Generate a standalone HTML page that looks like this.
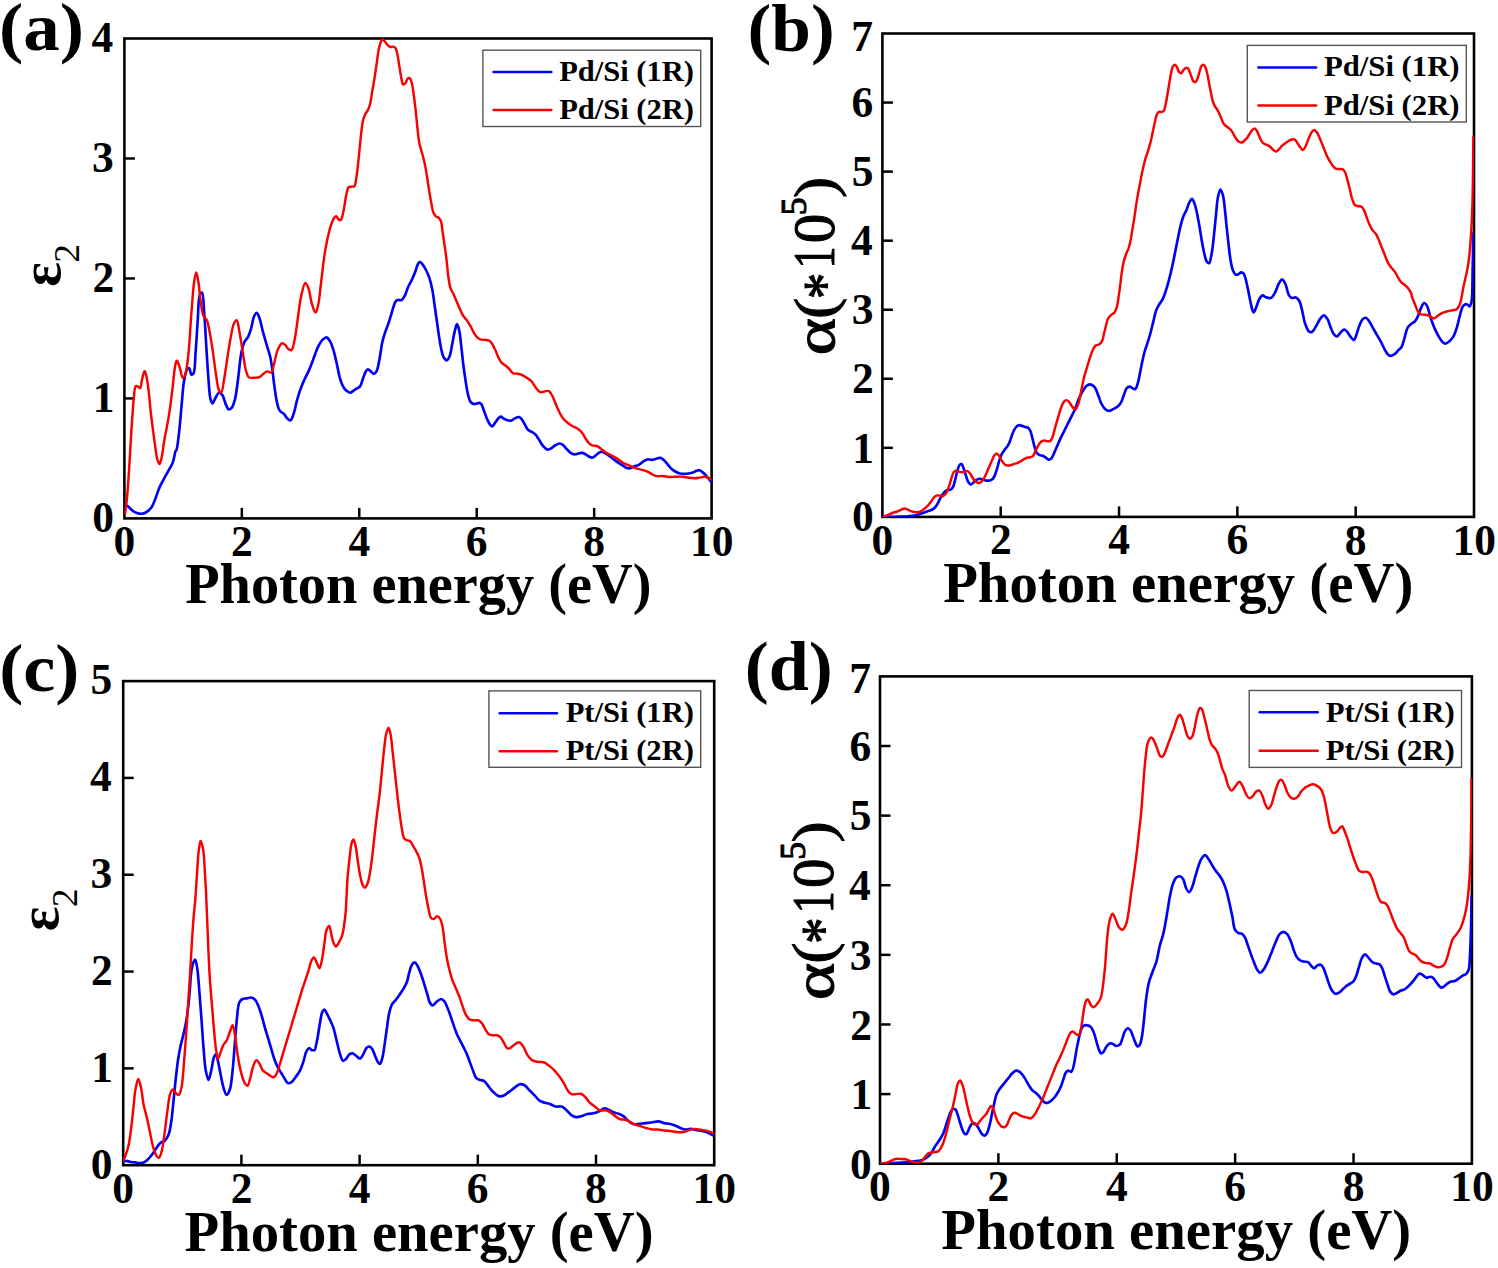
<!DOCTYPE html>
<html><head><meta charset="utf-8"><style>
html,body{margin:0;padding:0;background:#fff;}
svg{display:block;}
text{font-family:"Liberation Serif",serif;fill:#000;}
</style></head><body>
<svg width="1498" height="1268" viewBox="0 0 1498 1268">
<defs><clipPath id="clipa"><rect x="124.40" y="37.50" width="587.20" height="480.90"/></clipPath><clipPath id="clipb"><rect x="882.40" y="32.50" width="591.60" height="484.40"/></clipPath><clipPath id="clipc"><rect x="123.20" y="680.10" width="591.00" height="485.10"/></clipPath><clipPath id="clipd"><rect x="880.00" y="675.40" width="591.90" height="488.30"/></clipPath></defs>
<rect width="1498" height="1268" fill="#fff"/>
<rect x="124.40" y="38.50" width="587.20" height="479.90" fill="none" stroke="#000" stroke-width="2.60"/>
<line x1="241.84" y1="518.40" x2="241.84" y2="507.90" stroke="#000" stroke-width="2.5"/>
<line x1="359.28" y1="518.40" x2="359.28" y2="507.90" stroke="#000" stroke-width="2.5"/>
<line x1="476.72" y1="518.40" x2="476.72" y2="507.90" stroke="#000" stroke-width="2.5"/>
<line x1="594.16" y1="518.40" x2="594.16" y2="507.90" stroke="#000" stroke-width="2.5"/>
<line x1="124.40" y1="398.42" x2="134.90" y2="398.42" stroke="#000" stroke-width="2.5"/>
<line x1="124.40" y1="278.45" x2="134.90" y2="278.45" stroke="#000" stroke-width="2.5"/>
<line x1="124.40" y1="158.48" x2="134.90" y2="158.48" stroke="#000" stroke-width="2.5"/>
<text x="113.53" y="556.03" font-size="43.50" font-weight="bold">0</text>
<text x="231.07" y="555.81" font-size="43.50" font-weight="bold">2</text>
<text x="348.51" y="555.81" font-size="43.50" font-weight="bold">4</text>
<text x="465.74" y="555.81" font-size="43.50" font-weight="bold">6</text>
<text x="583.29" y="556.03" font-size="43.50" font-weight="bold">8</text>
<text x="689.98" y="556.03" font-size="43.50" font-weight="bold">10</text>
<text x="92.29" y="531.65" font-size="43.50" font-weight="bold">0</text>
<text x="92.72" y="411.78" font-size="43.50" font-weight="bold">1</text>
<text x="92.51" y="291.81" font-size="43.50" font-weight="bold">2</text>
<text x="92.07" y="171.61" font-size="43.50" font-weight="bold">3</text>
<text x="91.42" y="51.86" font-size="43.50" font-weight="bold">4</text>
<rect x="882.40" y="33.50" width="591.60" height="483.40" fill="none" stroke="#000" stroke-width="2.60"/>
<line x1="1000.72" y1="516.90" x2="1000.72" y2="506.40" stroke="#000" stroke-width="2.5"/>
<line x1="1119.04" y1="516.90" x2="1119.04" y2="506.40" stroke="#000" stroke-width="2.5"/>
<line x1="1237.36" y1="516.90" x2="1237.36" y2="506.40" stroke="#000" stroke-width="2.5"/>
<line x1="1355.68" y1="516.90" x2="1355.68" y2="506.40" stroke="#000" stroke-width="2.5"/>
<line x1="882.40" y1="447.84" x2="892.90" y2="447.84" stroke="#000" stroke-width="2.5"/>
<line x1="882.40" y1="378.79" x2="892.90" y2="378.79" stroke="#000" stroke-width="2.5"/>
<line x1="882.40" y1="309.73" x2="892.90" y2="309.73" stroke="#000" stroke-width="2.5"/>
<line x1="882.40" y1="240.67" x2="892.90" y2="240.67" stroke="#000" stroke-width="2.5"/>
<line x1="882.40" y1="171.61" x2="892.90" y2="171.61" stroke="#000" stroke-width="2.5"/>
<line x1="882.40" y1="102.56" x2="892.90" y2="102.56" stroke="#000" stroke-width="2.5"/>
<text x="871.52" y="554.53" font-size="43.50" font-weight="bold">0</text>
<text x="989.95" y="554.31" font-size="43.50" font-weight="bold">2</text>
<text x="1108.27" y="554.31" font-size="43.50" font-weight="bold">4</text>
<text x="1226.38" y="554.31" font-size="43.50" font-weight="bold">6</text>
<text x="1344.81" y="554.53" font-size="43.50" font-weight="bold">8</text>
<text x="1452.38" y="554.53" font-size="43.50" font-weight="bold">10</text>
<text x="851.89" y="531.45" font-size="43.50" font-weight="bold">0</text>
<text x="852.32" y="462.50" font-size="43.50" font-weight="bold">1</text>
<text x="852.11" y="393.44" font-size="43.50" font-weight="bold">2</text>
<text x="851.67" y="324.17" font-size="43.50" font-weight="bold">3</text>
<text x="851.02" y="255.33" font-size="43.50" font-weight="bold">4</text>
<text x="851.67" y="185.94" font-size="43.50" font-weight="bold">5</text>
<text x="851.45" y="116.99" font-size="43.50" font-weight="bold">6</text>
<text x="851.24" y="50.55" font-size="43.50" font-weight="bold">7</text>
<rect x="123.20" y="681.10" width="591.00" height="484.10" fill="none" stroke="#000" stroke-width="2.60"/>
<line x1="241.40" y1="1165.20" x2="241.40" y2="1154.70" stroke="#000" stroke-width="2.5"/>
<line x1="359.60" y1="1165.20" x2="359.60" y2="1154.70" stroke="#000" stroke-width="2.5"/>
<line x1="477.80" y1="1165.20" x2="477.80" y2="1154.70" stroke="#000" stroke-width="2.5"/>
<line x1="596.00" y1="1165.20" x2="596.00" y2="1154.70" stroke="#000" stroke-width="2.5"/>
<line x1="123.20" y1="1068.38" x2="133.70" y2="1068.38" stroke="#000" stroke-width="2.5"/>
<line x1="123.20" y1="971.56" x2="133.70" y2="971.56" stroke="#000" stroke-width="2.5"/>
<line x1="123.20" y1="874.74" x2="133.70" y2="874.74" stroke="#000" stroke-width="2.5"/>
<line x1="123.20" y1="777.92" x2="133.70" y2="777.92" stroke="#000" stroke-width="2.5"/>
<text x="112.33" y="1202.83" font-size="43.50" font-weight="bold">0</text>
<text x="230.63" y="1202.61" font-size="43.50" font-weight="bold">2</text>
<text x="348.83" y="1202.61" font-size="43.50" font-weight="bold">4</text>
<text x="466.82" y="1202.61" font-size="43.50" font-weight="bold">6</text>
<text x="585.12" y="1202.83" font-size="43.50" font-weight="bold">8</text>
<text x="692.58" y="1202.83" font-size="43.50" font-weight="bold">10</text>
<text x="90.79" y="1178.55" font-size="43.50" font-weight="bold">0</text>
<text x="91.22" y="1081.84" font-size="43.50" font-weight="bold">1</text>
<text x="91.01" y="985.02" font-size="43.50" font-weight="bold">2</text>
<text x="90.57" y="887.98" font-size="43.50" font-weight="bold">3</text>
<text x="89.92" y="791.38" font-size="43.50" font-weight="bold">4</text>
<text x="90.57" y="694.23" font-size="43.50" font-weight="bold">5</text>
<rect x="880.00" y="676.40" width="591.90" height="487.30" fill="none" stroke="#000" stroke-width="2.60"/>
<line x1="998.38" y1="1163.70" x2="998.38" y2="1153.20" stroke="#000" stroke-width="2.5"/>
<line x1="1116.76" y1="1163.70" x2="1116.76" y2="1153.20" stroke="#000" stroke-width="2.5"/>
<line x1="1235.14" y1="1163.70" x2="1235.14" y2="1153.20" stroke="#000" stroke-width="2.5"/>
<line x1="1353.52" y1="1163.70" x2="1353.52" y2="1153.20" stroke="#000" stroke-width="2.5"/>
<line x1="880.00" y1="1094.09" x2="890.50" y2="1094.09" stroke="#000" stroke-width="2.5"/>
<line x1="880.00" y1="1024.47" x2="890.50" y2="1024.47" stroke="#000" stroke-width="2.5"/>
<line x1="880.00" y1="954.86" x2="890.50" y2="954.86" stroke="#000" stroke-width="2.5"/>
<line x1="880.00" y1="885.24" x2="890.50" y2="885.24" stroke="#000" stroke-width="2.5"/>
<line x1="880.00" y1="815.63" x2="890.50" y2="815.63" stroke="#000" stroke-width="2.5"/>
<line x1="880.00" y1="746.01" x2="890.50" y2="746.01" stroke="#000" stroke-width="2.5"/>
<text x="869.12" y="1201.33" font-size="43.50" font-weight="bold">0</text>
<text x="987.61" y="1201.11" font-size="43.50" font-weight="bold">2</text>
<text x="1105.99" y="1201.11" font-size="43.50" font-weight="bold">4</text>
<text x="1224.16" y="1201.11" font-size="43.50" font-weight="bold">6</text>
<text x="1342.64" y="1201.33" font-size="43.50" font-weight="bold">8</text>
<text x="1450.28" y="1201.33" font-size="43.50" font-weight="bold">10</text>
<text x="849.99" y="1178.75" font-size="43.50" font-weight="bold">0</text>
<text x="850.42" y="1109.24" font-size="43.50" font-weight="bold">1</text>
<text x="850.21" y="1039.63" font-size="43.50" font-weight="bold">2</text>
<text x="849.77" y="969.79" font-size="43.50" font-weight="bold">3</text>
<text x="849.12" y="900.40" font-size="43.50" font-weight="bold">4</text>
<text x="849.77" y="830.46" font-size="43.50" font-weight="bold">5</text>
<text x="849.55" y="760.95" font-size="43.50" font-weight="bold">6</text>
<text x="849.34" y="693.45" font-size="43.50" font-weight="bold">7</text>
<text transform="translate(185.15,603.40) scale(0.9988,1)" font-size="56.44" font-weight="bold">Photon energy (eV)</text>
<text transform="translate(943.15,601.70) scale(1.0068,1)" font-size="56.44" font-weight="bold">Photon energy (eV)</text>
<text transform="translate(184.55,1250.70) scale(1.0017,1)" font-size="56.59" font-weight="bold">Photon energy (eV)</text>
<text transform="translate(941.35,1249.40) scale(0.9984,1)" font-size="56.89" font-weight="bold">Photon energy (eV)</text>
<text transform="translate(-0.98,49.66) scale(1.0640,1)" font-size="68.57" font-weight="bold">(a)</text>
<text transform="translate(747.59,50.63) scale(1.0445,1)" font-size="68.24" font-weight="bold">(b)</text>
<text transform="translate(-0.85,690.93) scale(1.0520,1)" font-size="68.68" font-weight="bold">(c)</text>
<text transform="translate(744.76,690.04) scale(1.0414,1)" font-size="69.12" font-weight="bold">(d)</text>
<text transform="translate(59.72,286.65) rotate(-90) scale(1.0032,1)" font-size="57.71" font-weight="bold">ε</text>
<text transform="translate(79.20,262.70) rotate(-90) scale(1.0739,1)" font-size="35.15" font-weight="normal">2</text>
<text transform="translate(57.72,931.25) rotate(-90) scale(1.0032,1)" font-size="57.71" font-weight="bold">ε</text>
<text transform="translate(77.20,907.30) rotate(-90) scale(1.0739,1)" font-size="35.15" font-weight="normal">2</text>
<text stroke="#000" stroke-width="1.0" transform="translate(834.12,355.24) rotate(-90) scale(1.2318,1)" font-size="57.71" font-weight="normal">α</text>
<text stroke="#000" stroke-width="1.0" transform="translate(833.53,318.98) rotate(-90) scale(1.1295,1)" font-size="56.59" font-weight="normal">(</text>
<text stroke="#000" stroke-width="1.0" transform="translate(844.54,299.26) rotate(-90) scale(0.8562,1)" font-size="62.19" font-weight="normal">*</text>
<text stroke="#000" stroke-width="1.0" transform="translate(834.20,268.56) rotate(-90) scale(0.7427,1)" font-size="59.24" font-weight="normal">1</text>
<text stroke="#000" stroke-width="1.0" transform="translate(834.21,243.37) rotate(-90) scale(1.0080,1)" font-size="58.81" font-weight="normal">0</text>
<text stroke="#000" stroke-width="1.0" transform="translate(806.15,215.15) rotate(-90) scale(1.0203,1)" font-size="35.04" font-weight="normal">5</text>
<text stroke="#000" stroke-width="1.0" transform="translate(833.75,197.90) rotate(-90) scale(1.1155,1)" font-size="56.89" font-weight="normal">)</text>
<text stroke="#000" stroke-width="1.0" transform="translate(832.62,999.94) rotate(-90) scale(1.2318,1)" font-size="57.71" font-weight="normal">α</text>
<text stroke="#000" stroke-width="1.0" transform="translate(832.03,963.68) rotate(-90) scale(1.1295,1)" font-size="56.59" font-weight="normal">(</text>
<text stroke="#000" stroke-width="1.0" transform="translate(843.04,943.96) rotate(-90) scale(0.8562,1)" font-size="62.19" font-weight="normal">*</text>
<text stroke="#000" stroke-width="1.0" transform="translate(832.70,913.26) rotate(-90) scale(0.7427,1)" font-size="59.24" font-weight="normal">1</text>
<text stroke="#000" stroke-width="1.0" transform="translate(832.71,888.07) rotate(-90) scale(1.0080,1)" font-size="58.81" font-weight="normal">0</text>
<text stroke="#000" stroke-width="1.0" transform="translate(804.65,859.85) rotate(-90) scale(1.0203,1)" font-size="35.04" font-weight="normal">5</text>
<text stroke="#000" stroke-width="1.0" transform="translate(832.25,842.60) rotate(-90) scale(1.1155,1)" font-size="56.89" font-weight="normal">)</text>
<path d="M124.57,507.88 C125.30,507.15 125.95,505.75 126.76,505.69 C127.64,505.63 128.73,507.06 129.68,507.88 C130.68,508.75 131.45,509.97 132.60,510.80 C133.85,511.70 135.42,512.51 136.98,512.99 C138.58,513.49 140.41,513.94 142.09,513.72 C143.82,513.49 145.65,512.58 147.20,511.53 C148.83,510.43 150.32,508.97 151.58,507.15 C153.08,504.99 154.07,501.99 155.23,499.12 C156.51,495.95 157.50,492.14 158.88,488.91 C160.19,485.83 161.77,482.99 163.26,480.15 C164.69,477.40 166.12,474.91 167.64,472.12 C169.28,469.09 171.42,466.04 172.74,462.63 C174.14,459.02 174.77,452.48 175.66,450.95 C175.93,450.49 176.19,450.70 176.44,450.21 C177.51,448.15 178.39,438.03 179.21,431.04 C180.20,422.67 180.94,411.98 181.77,403.35 C182.50,395.79 182.82,388.22 183.90,382.06 C184.74,377.22 185.60,371.13 187.09,369.28 C187.73,368.49 188.62,367.96 189.22,368.21 C190.24,368.63 190.34,374.18 191.35,374.60 C191.96,374.85 192.89,374.39 193.48,373.54 C195.26,370.96 194.96,360.06 195.61,352.24 C196.41,342.67 196.99,330.34 197.74,320.29 C198.42,311.29 198.15,298.45 199.87,294.73 C200.46,293.45 201.41,292.39 202.00,292.60 C203.49,293.12 203.50,304.46 204.13,311.77 C204.98,321.50 205.54,334.67 206.26,345.85 C206.96,356.67 207.59,368.23 208.39,377.80 C209.04,385.62 209.27,394.77 210.52,399.09 C211.11,401.13 211.89,403.35 212.65,403.35 C213.51,403.36 214.38,399.77 215.42,398.03 C216.50,396.22 217.74,392.96 219.04,392.71 C220.05,392.51 221.32,393.68 222.24,394.83 C223.65,396.62 224.28,400.80 225.43,403.35 C226.43,405.56 227.34,408.93 228.63,409.32 C229.57,409.60 230.91,408.66 231.82,407.61 C233.27,405.96 234.10,402.63 235.02,399.09 C236.43,393.65 237.19,385.23 238.21,377.80 C239.33,369.67 240.01,358.88 241.41,352.24 C242.33,347.87 243.26,344.25 244.60,341.59 C245.53,339.74 246.84,339.07 247.80,337.33 C249.05,335.04 250.01,331.97 250.99,328.81 C252.17,325.01 252.82,318.78 254.19,316.03 C254.94,314.49 255.93,312.75 256.74,312.83 C257.72,312.93 258.67,315.94 259.51,318.16 C260.76,321.44 261.52,326.52 262.71,330.94 C263.99,335.73 265.63,341.30 266.96,345.85 C268.09,349.70 269.29,352.76 270.16,356.50 C271.10,360.53 271.62,364.70 272.29,369.28 C273.06,374.54 273.60,380.64 274.42,386.32 C275.24,392.00 276.06,398.87 277.19,403.35 C277.95,406.38 278.41,408.98 279.74,410.81 C280.84,412.32 282.76,412.76 284.00,414.00 C285.25,415.25 286.03,417.16 287.20,418.26 C288.19,419.20 289.45,420.64 290.39,420.39 C291.68,420.05 292.64,416.56 293.59,414.00 C294.87,410.53 295.67,405.28 296.78,401.22 C297.81,397.50 298.75,394.10 299.98,390.58 C301.23,387.00 302.75,383.25 304.24,379.93 C305.60,376.90 307.14,374.43 308.50,371.41 C309.99,368.08 311.72,363.52 312.76,360.76 C313.41,359.02 313.61,358.23 314.26,356.50 C315.30,353.74 316.93,348.88 318.52,345.85 C319.82,343.37 321.21,340.91 322.78,339.46 C323.97,338.36 325.43,337.11 326.61,337.33 C327.95,337.57 329.19,339.81 330.23,341.59 C331.57,343.85 332.45,346.95 333.43,350.11 C334.61,353.91 335.60,358.45 336.62,362.89 C337.73,367.66 338.58,373.56 339.82,377.80 C340.78,381.07 341.76,384.03 343.01,386.32 C343.97,388.06 344.96,389.49 346.21,390.58 C347.34,391.56 348.79,392.72 350.04,392.71 C351.27,392.69 352.50,391.30 353.66,390.58 C354.77,389.88 355.79,389.16 356.86,388.45 C357.92,387.74 359.14,387.47 360.05,386.32 C361.47,384.53 362.23,380.43 363.25,377.80 C364.13,375.51 364.82,372.90 365.80,371.41 C366.46,370.42 367.15,369.33 367.93,369.28 C368.77,369.22 369.75,370.66 370.70,371.41 C371.73,372.21 372.91,374.02 373.90,373.96 C374.82,373.91 375.72,372.69 376.45,371.41 C377.73,369.17 378.35,364.85 379.22,360.76 C380.38,355.32 381.16,347.01 382.42,341.59 C383.37,337.48 384.49,334.27 385.61,330.94 C386.63,327.92 387.79,325.43 388.81,322.42 C389.93,319.08 390.91,315.22 392.00,311.77 C393.04,308.48 393.98,304.15 395.20,302.18 C395.86,301.11 396.40,300.44 397.33,300.05 C398.43,299.59 400.39,300.65 401.59,300.05 C402.93,299.38 403.83,297.54 404.78,295.79 C406.03,293.51 406.78,289.99 407.98,287.27 C409.13,284.67 410.60,282.41 411.81,279.82 C413.09,277.10 414.43,273.95 415.43,271.30 C416.29,269.03 416.72,266.63 417.56,264.91 C418.20,263.61 418.85,261.80 419.69,261.71 C420.60,261.62 421.89,263.64 422.89,264.91 C424.05,266.40 425.08,268.27 426.08,270.23 C427.23,272.48 428.31,274.83 429.28,277.69 C430.50,281.34 431.60,286.02 432.47,290.47 C433.40,295.22 433.89,300.41 434.60,305.38 C435.31,310.35 436.02,315.32 436.73,320.29 C437.44,325.26 438.12,330.42 438.86,335.20 C439.55,339.63 440.10,344.05 440.99,347.98 C441.77,351.43 442.45,355.43 443.76,357.56 C444.60,358.92 445.81,360.42 446.74,360.33 C447.74,360.23 448.73,358.26 449.51,356.50 C450.82,353.57 451.39,347.98 452.28,343.72 C453.17,339.46 453.92,334.51 454.83,330.94 C455.51,328.29 456.23,324.14 456.96,324.12 C457.65,324.10 458.49,327.43 459.09,329.87 C460.08,333.83 460.54,340.28 461.22,345.85 C461.97,351.94 462.60,359.03 463.35,365.02 C464.03,370.30 464.75,375.15 465.48,379.93 C466.17,384.35 466.73,388.90 467.61,392.71 C468.35,395.86 468.98,399.31 470.17,401.22 C470.95,402.47 471.89,403.37 472.94,403.78 C473.90,404.16 475.08,403.92 476.13,403.78 C477.21,403.64 478.40,402.77 479.33,402.93 C480.15,403.07 480.84,403.64 481.46,404.42 C482.37,405.57 482.82,407.76 483.59,409.74 C484.56,412.25 485.65,415.66 486.78,418.26 C487.79,420.58 488.86,423.27 489.98,424.65 C490.67,425.51 491.37,426.43 492.11,426.36 C493.11,426.26 494.26,423.85 495.30,422.52 C496.39,421.15 497.48,419.32 498.50,418.26 C499.23,417.51 499.83,416.59 500.63,416.56 C501.57,416.52 502.49,418.07 503.82,418.69 C505.66,419.55 508.84,421.01 510.85,420.75 C512.52,420.54 513.74,418.77 515.19,418.15 C516.49,417.59 517.98,416.82 519.09,417.06 C520.11,417.28 520.86,418.26 521.70,419.23 C522.84,420.57 523.87,422.85 524.95,424.66 C526.04,426.47 526.82,428.80 528.21,430.08 C529.42,431.21 531.24,431.42 532.55,432.25 C533.75,433.02 534.80,433.75 535.80,434.86 C537.00,436.18 537.89,438.08 539.05,439.85 C540.39,441.87 541.85,444.64 543.39,446.35 C544.63,447.74 545.94,449.33 547.30,449.61 C548.48,449.85 549.76,449.14 550.99,448.52 C552.44,447.80 553.82,446.12 555.33,445.27 C556.72,444.49 558.32,443.53 559.67,443.53 C560.83,443.53 561.91,444.13 562.92,444.84 C564.11,445.68 564.99,447.26 566.17,448.52 C567.50,449.93 568.95,451.88 570.51,452.86 C571.87,453.72 573.40,454.32 574.85,454.38 C576.29,454.45 577.84,453.56 579.19,453.30 C580.35,453.08 581.39,452.70 582.45,452.86 C583.56,453.03 584.64,453.79 585.70,454.38 C586.81,455.01 587.83,456.00 588.96,456.55 C590.01,457.07 591.15,457.75 592.21,457.64 C593.32,457.51 594.41,456.45 595.47,455.68 C596.59,454.87 597.57,453.52 598.72,452.86 C599.75,452.28 600.90,451.72 601.97,451.78 C603.07,451.84 604.09,452.67 605.23,453.30 C606.60,454.06 608.14,455.12 609.57,456.12 C611.03,457.14 612.46,458.29 613.91,459.37 C615.35,460.46 616.78,461.60 618.25,462.63 C619.68,463.63 621.13,464.54 622.59,465.45 C624.02,466.35 625.53,467.62 626.93,468.05 C628.04,468.40 629.04,468.47 630.18,468.27 C631.55,468.02 633.06,466.90 634.52,466.32 C635.95,465.74 637.47,465.54 638.86,464.80 C640.37,463.99 641.71,462.46 643.20,461.54 C644.61,460.67 646.05,459.65 647.54,459.37 C648.95,459.11 650.44,459.91 651.88,459.81 C653.33,459.70 654.77,459.05 656.22,458.72 C657.66,458.40 659.26,457.60 660.56,457.85 C661.77,458.10 662.78,459.12 663.81,460.02 C664.96,461.03 665.90,462.39 667.06,463.71 C668.41,465.25 669.87,467.32 671.40,468.70 C672.78,469.94 674.25,470.93 675.74,471.74 C677.15,472.50 678.61,473.12 680.08,473.48 C681.50,473.82 682.98,473.91 684.42,473.91 C685.87,473.91 687.32,473.73 688.76,473.48 C690.22,473.22 691.78,472.86 693.10,472.39 C694.29,471.97 695.25,471.24 696.35,470.87 C697.42,470.52 698.57,470.01 699.61,470.22 C700.74,470.45 701.82,471.53 702.86,472.39 C704.00,473.32 705.06,474.49 706.12,475.65 C707.23,476.86 708.40,478.38 709.37,479.55 C710.17,480.51 710.82,481.29 711.54,482.15" fill="none" stroke="#0000f4" stroke-width="2.65" stroke-linejoin="round" stroke-linecap="round" clip-path="url(#clipa)"/>
<path d="M125.01,513.72 C125.59,509.34 126.21,505.84 126.76,500.58 C127.57,492.78 128.26,481.66 128.95,471.39 C129.72,459.90 130.47,445.51 131.14,434.89 C131.66,426.66 132.08,419.88 132.60,412.99 C133.06,406.83 133.40,400.41 134.06,395.47 C134.55,391.82 134.53,386.78 135.81,385.99 C136.49,385.56 137.69,386.32 138.44,386.72 C139.13,387.08 139.69,388.35 140.19,388.18 C141.17,387.84 141.35,382.30 142.09,379.42 C142.82,376.56 143.77,370.97 144.57,370.95 C145.22,370.93 145.90,374.18 146.47,376.50 C147.37,380.18 147.99,385.73 148.66,391.09 C149.48,397.65 150.07,406.10 150.85,412.99 C151.54,419.16 152.29,424.80 153.04,430.51 C153.75,435.98 154.46,441.49 155.23,446.57 C155.92,451.17 156.39,456.56 157.42,459.71 C158.04,461.62 158.94,464.15 159.61,464.09 C160.44,464.02 161.15,459.67 161.80,456.79 C162.69,452.78 163.21,446.78 163.99,442.19 C164.68,438.07 165.45,434.40 166.18,430.51 C166.91,426.62 167.67,422.95 168.36,418.83 C169.14,414.24 169.85,409.33 170.55,404.23 C171.32,398.66 172.06,392.56 172.74,386.72 C173.43,380.88 173.88,373.90 174.64,369.20 C175.16,365.99 175.70,362.14 176.39,361.17 C176.61,360.86 176.84,360.67 177.08,360.76 C177.80,361.00 178.79,364.72 179.64,367.15 C180.71,370.22 181.57,377.48 182.83,377.80 C183.49,377.96 184.33,376.89 184.96,375.67 C186.56,372.57 187.23,364.17 188.16,356.50 C189.53,345.12 190.29,327.07 191.35,313.90 C192.28,302.48 192.97,289.46 194.12,281.95 C194.76,277.79 195.54,272.36 196.25,272.36 C196.96,272.36 197.73,278.10 198.38,281.95 C199.35,287.63 199.95,297.07 200.94,303.25 C201.71,308.07 202.09,313.02 203.49,316.03 C204.40,317.97 205.99,318.42 206.90,320.29 C208.20,322.94 208.63,326.85 209.46,330.94 C210.56,336.38 211.63,343.39 212.65,350.11 C213.77,357.52 214.69,366.36 215.85,373.54 C216.84,379.68 217.53,387.70 219.04,390.58 C219.67,391.77 220.53,392.89 221.17,392.71 C222.61,392.28 223.38,383.22 224.37,377.80 C225.54,371.34 226.47,363.40 227.56,356.50 C228.60,349.93 229.59,343.18 230.76,337.33 C231.75,332.32 232.48,326.37 233.95,323.48 C234.75,321.90 235.95,320.10 236.72,320.29 C237.96,320.59 238.45,326.85 239.28,330.94 C240.38,336.38 241.41,343.72 242.47,350.11 C243.54,356.50 244.29,364.30 245.67,369.28 C246.59,372.61 247.23,376.14 248.86,377.37 C250.00,378.23 251.56,377.80 253.12,377.80 C255.04,377.80 257.69,377.93 259.51,377.16 C261.20,376.44 262.42,374.55 263.77,373.54 C264.89,372.69 265.77,371.61 266.96,371.41 C268.24,371.18 270.14,373.06 271.22,372.47 C272.68,371.68 272.90,367.95 273.78,365.02 C275.01,360.92 275.94,354.02 277.61,350.11 C278.83,347.28 280.34,343.74 281.87,343.29 C282.89,342.99 284.09,343.99 285.07,344.78 C286.27,345.76 287.05,348.16 288.26,349.04 C289.23,349.74 290.56,350.57 291.46,350.11 C293.09,349.26 293.71,343.66 294.65,339.46 C295.96,333.61 296.78,325.26 297.85,318.16 C298.91,311.06 299.61,303.15 301.04,296.86 C302.22,291.70 303.76,283.20 305.30,283.01 C306.31,282.89 307.58,286.02 308.50,288.34 C309.93,291.97 310.45,299.01 311.69,303.25 C312.65,306.52 313.87,310.73 314.89,311.77 C315.25,312.14 315.62,312.36 315.96,312.19 C316.94,311.71 317.81,306.74 318.52,303.25 C319.49,298.51 319.86,292.65 320.65,286.21 C321.69,277.79 323.12,264.52 324.19,257.06 C324.86,252.39 325.34,249.63 326.08,245.70 C326.89,241.45 327.89,236.49 328.92,232.46 C329.80,229.02 330.68,225.71 331.76,223.00 C332.62,220.82 333.56,218.36 334.60,217.32 C335.20,216.72 335.92,216.22 336.49,216.38 C337.22,216.57 337.61,218.58 338.38,219.21 C339.04,219.75 340.03,220.42 340.65,220.16 C341.55,219.78 341.99,217.31 342.54,215.43 C343.31,212.85 343.83,209.27 344.44,205.97 C345.10,202.36 345.50,197.99 346.33,194.62 C347.02,191.81 347.50,188.13 348.79,187.05 C349.56,186.40 350.68,186.83 351.63,186.67 C352.58,186.51 353.73,186.82 354.47,186.10 C355.74,184.86 355.79,180.85 356.36,177.59 C357.10,173.28 357.70,167.33 358.25,162.45 C358.76,157.89 359.12,153.77 359.57,149.21 C360.06,144.33 360.50,138.94 361.09,134.07 C361.64,129.50 362.11,124.45 362.98,120.82 C363.61,118.20 364.35,116.06 365.25,114.20 C365.98,112.71 366.96,111.90 367.71,110.42 C368.64,108.56 369.49,106.33 370.17,103.79 C371.03,100.55 371.40,96.37 372.06,92.44 C372.78,88.20 373.60,83.76 374.33,79.20 C375.12,74.32 375.89,68.94 376.60,64.06 C377.27,59.50 377.75,54.60 378.50,50.81 C379.06,47.92 379.63,45.30 380.39,43.25 C380.95,41.73 381.47,39.65 382.28,39.46 C382.97,39.30 383.94,40.55 384.74,41.35 C385.72,42.35 386.54,44.16 387.58,45.14 C388.46,45.97 389.43,46.80 390.42,47.03 C391.32,47.24 392.39,46.48 393.25,46.65 C394.08,46.82 394.91,47.18 395.53,47.98 C396.52,49.26 396.85,52.08 397.42,54.60 C398.15,57.86 398.68,62.17 399.31,65.95 C399.94,69.74 400.49,73.96 401.20,77.30 C401.78,79.99 402.04,84.07 403.09,84.49 C403.75,84.76 404.83,83.76 405.55,82.98 C406.54,81.92 407.04,78.84 408.01,78.25 C408.59,77.90 409.37,77.89 409.91,78.25 C410.79,78.85 411.25,81.03 411.80,82.98 C412.62,85.92 413.10,90.27 413.69,94.33 C414.37,99.01 414.98,104.14 415.58,109.47 C416.25,115.42 416.80,122.44 417.47,128.39 C418.07,133.72 418.47,139.10 419.37,143.53 C420.08,147.08 421.16,149.83 422.02,152.99 C422.87,156.14 423.71,159.02 424.47,162.45 C425.37,166.48 426.17,171.13 426.93,175.70 C427.75,180.57 428.42,185.96 429.21,190.83 C429.94,195.40 430.70,200.16 431.48,204.08 C432.10,207.24 432.44,210.38 433.37,212.59 C434.03,214.18 434.84,215.51 435.83,216.38 C436.65,217.09 437.85,217.00 438.67,217.70 C439.60,218.50 440.35,219.61 440.94,221.11 C441.84,223.40 441.93,227.15 442.45,230.57 C443.06,234.61 443.71,239.40 444.34,243.81 C444.97,248.23 445.62,252.15 446.23,257.06 C447.00,263.17 447.57,271.96 448.45,277.69 C449.08,281.84 449.53,285.30 450.58,288.34 C451.42,290.80 452.74,292.50 453.77,294.73 C454.87,297.10 455.90,299.70 456.96,302.18 C458.03,304.67 459.06,307.26 460.16,309.64 C461.19,311.87 462.09,314.06 463.35,316.03 C464.59,317.95 466.35,319.53 467.61,321.35 C468.82,323.09 469.78,324.80 470.81,326.68 C471.91,328.69 472.85,331.20 474.00,333.07 C475.00,334.68 476.03,336.22 477.20,337.33 C478.19,338.26 479.19,339.03 480.39,339.46 C481.66,339.91 483.24,339.71 484.65,339.88 C486.08,340.06 487.68,339.90 488.91,340.52 C490.18,341.16 491.14,342.37 492.11,343.72 C493.33,345.41 494.27,347.88 495.30,350.11 C496.40,352.48 497.35,355.32 498.50,357.56 C499.50,359.52 500.39,361.44 501.69,362.89 C502.90,364.23 504.70,365.11 505.95,366.08 C506.97,366.87 507.71,367.32 508.68,368.25 C510.01,369.52 511.39,372.39 513.02,373.24 C514.34,373.92 515.92,373.42 517.36,373.67 C518.81,373.92 520.22,374.14 521.70,374.76 C523.46,375.49 525.44,376.88 527.12,378.01 C528.68,379.06 530.12,379.85 531.46,381.26 C533.07,382.96 534.25,385.89 535.80,387.77 C537.17,389.44 538.55,391.59 540.14,392.11 C541.48,392.56 543.03,391.64 544.48,391.46 C545.92,391.28 547.60,390.49 548.82,391.03 C550.18,391.63 551.08,393.65 552.07,395.37 C553.30,397.49 554.24,400.43 555.33,402.96 C556.41,405.49 557.34,408.06 558.58,410.56 C559.86,413.12 561.32,416.06 562.92,418.15 C564.26,419.90 565.66,421.17 567.26,422.49 C568.91,423.85 570.84,425.08 572.68,426.18 C574.46,427.24 576.48,427.81 578.11,429.00 C579.74,430.19 581.19,431.72 582.45,433.34 C583.73,434.97 584.57,437.08 585.70,438.76 C586.75,440.32 587.77,441.98 588.96,443.10 C589.97,444.06 590.93,444.74 592.21,445.27 C593.74,445.90 596.00,445.62 597.64,446.35 C599.25,447.08 600.53,448.52 601.97,449.61 C603.42,450.69 604.82,451.94 606.31,452.86 C607.72,453.73 609.13,454.26 610.65,455.03 C612.36,455.91 614.40,456.84 616.08,457.85 C617.64,458.80 618.96,459.91 620.42,460.89 C621.85,461.86 623.19,462.90 624.76,463.71 C626.42,464.58 628.37,465.16 630.18,465.88 C631.99,466.61 633.78,467.43 635.60,468.05 C637.40,468.66 639.15,468.99 641.03,469.57 C643.11,470.21 645.62,470.90 647.54,471.74 C649.17,472.45 650.42,473.40 651.88,474.13 C653.31,474.84 654.58,475.73 656.22,476.08 C658.13,476.49 660.56,475.94 662.73,476.08 C664.90,476.22 667.06,476.84 669.23,476.95 C671.40,477.05 673.57,476.77 675.74,476.73 C677.91,476.69 680.09,476.55 682.25,476.73 C684.43,476.91 686.59,477.56 688.76,477.82 C690.92,478.07 693.20,478.34 695.27,478.25 C697.17,478.16 698.99,477.65 700.69,477.38 C702.22,477.14 703.70,476.62 705.03,476.73 C706.21,476.83 707.22,477.36 708.29,477.82 C709.39,478.29 710.46,478.97 711.54,479.55" fill="none" stroke="#f80000" stroke-width="2.45" stroke-linejoin="round" stroke-linecap="round" clip-path="url(#clipa)"/>
<path d="M882.40,517.27 C883.93,517.27 885.36,517.31 886.99,517.27 C888.85,517.22 890.87,517.06 892.98,516.97 C895.34,516.86 897.98,516.79 900.47,516.67 C902.97,516.54 905.47,516.44 907.96,516.22 C910.46,515.99 913.12,515.81 915.45,515.32 C917.58,514.87 919.46,514.19 921.45,513.52 C923.45,512.84 925.58,511.93 927.44,511.27 C929.04,510.71 930.63,510.46 931.93,509.78 C933.09,509.17 934.01,508.50 934.93,507.53 C936.04,506.36 936.97,504.67 937.93,503.03 C938.98,501.21 939.86,498.87 940.92,497.04 C941.87,495.40 942.81,493.72 943.92,492.55 C944.84,491.57 945.80,490.80 946.91,490.30 C948.04,489.80 949.63,490.10 950.66,489.55 C951.59,489.05 952.26,488.38 952.91,487.30 C953.92,485.61 954.43,482.43 955.15,479.81 C955.94,476.96 956.57,473.50 957.40,470.82 C958.09,468.60 958.65,465.84 959.65,464.83 C960.22,464.26 961.04,463.86 961.60,464.08 C962.38,464.39 962.81,466.38 963.39,467.83 C964.16,469.73 964.89,472.32 965.64,474.57 C966.39,476.82 966.97,479.57 967.89,481.31 C968.55,482.58 969.28,484.04 970.13,484.31 C970.82,484.52 971.63,484.02 972.38,483.56 C973.38,482.94 974.31,481.33 975.38,480.56 C976.32,479.88 977.35,479.31 978.37,479.06 C979.35,478.83 980.45,478.92 981.37,479.06 C982.19,479.20 982.81,479.58 983.62,479.81 C984.54,480.08 985.61,480.44 986.61,480.56 C987.61,480.68 988.64,480.79 989.61,480.56 C990.64,480.32 991.77,479.84 992.61,479.06 C993.56,478.18 994.18,476.79 994.85,475.32 C995.72,473.44 996.38,470.95 997.10,468.58 C997.89,465.98 998.54,462.85 999.35,460.34 C1000.05,458.16 1000.67,456.15 1001.60,454.34 C1002.45,452.69 1003.56,451.26 1004.59,449.85 C1005.56,448.52 1006.72,447.46 1007.59,446.10 C1008.48,444.72 1009.14,443.29 1009.84,441.61 C1010.66,439.62 1011.29,436.96 1012.08,434.87 C1012.79,433.00 1013.48,431.09 1014.33,429.63 C1015.02,428.44 1015.72,427.40 1016.58,426.63 C1017.34,425.95 1018.24,425.25 1019.12,425.13 C1019.99,425.02 1020.90,425.59 1021.82,425.88 C1022.80,426.19 1023.81,426.63 1024.82,426.93 C1025.81,427.23 1026.96,427.14 1027.81,427.68 C1028.72,428.25 1029.41,429.17 1030.06,430.37 C1031.03,432.18 1031.59,435.25 1032.31,437.87 C1033.09,440.72 1033.72,444.18 1034.55,446.85 C1035.25,449.08 1035.74,451.43 1036.80,452.85 C1037.62,453.93 1038.75,454.59 1039.80,455.09 C1040.75,455.55 1041.82,455.44 1042.79,455.84 C1043.83,456.27 1044.80,457.02 1045.79,457.64 C1046.79,458.27 1047.83,459.47 1048.79,459.59 C1049.56,459.69 1050.37,459.37 1051.03,458.84 C1051.94,458.11 1052.58,456.47 1053.28,455.09 C1054.09,453.52 1054.78,451.60 1055.53,449.85 C1056.28,448.10 1056.97,446.46 1057.78,444.61 C1058.70,442.50 1059.75,440.03 1060.77,437.87 C1061.75,435.80 1062.77,433.87 1063.77,431.87 C1064.77,429.88 1065.77,427.88 1066.76,425.88 C1067.76,423.88 1068.76,421.89 1069.76,419.89 C1070.76,417.89 1071.86,415.69 1072.76,413.90 C1073.48,412.43 1074.02,411.57 1074.73,409.90 C1075.85,407.26 1077.16,402.65 1078.51,399.49 C1079.70,396.73 1080.96,394.22 1082.30,391.92 C1083.50,389.85 1084.56,387.52 1086.08,386.24 C1087.35,385.18 1089.04,384.22 1090.44,384.35 C1091.88,384.49 1093.41,385.76 1094.60,387.19 C1096.22,389.13 1097.25,392.93 1098.38,395.70 C1099.44,398.29 1100.05,400.99 1101.22,403.27 C1102.29,405.37 1103.48,407.68 1105.00,408.95 C1106.27,410.01 1107.92,410.85 1109.36,410.84 C1110.76,410.83 1112.11,409.69 1113.52,408.95 C1115.07,408.14 1116.96,407.27 1118.25,406.11 C1119.44,405.04 1120.24,403.88 1121.09,402.33 C1122.20,400.30 1122.95,397.19 1123.93,394.76 C1124.85,392.47 1125.54,389.47 1126.76,388.14 C1127.58,387.24 1128.66,386.62 1129.60,386.62 C1130.55,386.62 1131.48,387.72 1132.44,388.14 C1133.37,388.54 1134.49,389.44 1135.28,389.08 C1136.42,388.57 1137.02,385.62 1137.74,383.41 C1138.68,380.50 1139.27,376.55 1140.01,373.00 C1140.78,369.30 1141.47,365.34 1142.28,361.65 C1143.05,358.09 1143.81,354.51 1144.74,351.24 C1145.59,348.24 1146.65,345.64 1147.58,342.72 C1148.55,339.66 1149.51,336.57 1150.42,333.26 C1151.41,329.66 1152.31,325.70 1153.25,321.91 C1154.20,318.13 1154.95,313.64 1156.09,310.56 C1156.93,308.29 1157.85,306.74 1158.93,304.88 C1160.05,302.95 1161.64,301.30 1162.72,299.21 C1163.88,296.92 1164.65,294.32 1165.55,291.64 C1166.55,288.67 1167.48,285.48 1168.39,282.18 C1169.38,278.57 1170.35,274.61 1171.23,270.82 C1172.11,267.05 1172.90,263.26 1173.69,259.47 C1174.48,255.69 1175.20,251.90 1175.96,248.12 C1176.72,244.33 1177.44,240.55 1178.23,236.76 C1179.02,232.98 1179.76,229.01 1180.69,225.41 C1181.55,222.10 1182.45,218.66 1183.53,215.95 C1184.39,213.78 1185.47,212.33 1186.37,210.27 C1187.38,207.96 1188.09,204.73 1189.21,202.71 C1190.06,201.15 1191.16,198.84 1192.04,198.92 C1193.07,199.01 1194.09,202.41 1194.88,204.60 C1195.87,207.30 1196.42,210.63 1197.15,214.06 C1198.01,218.09 1198.82,222.74 1199.61,227.30 C1200.46,232.18 1201.22,237.76 1202.07,242.44 C1202.81,246.50 1203.50,250.41 1204.34,253.79 C1205.04,256.59 1205.52,259.77 1206.61,261.36 C1207.30,262.36 1208.37,263.50 1209.07,263.25 C1210.45,262.78 1211.12,256.19 1211.91,251.90 C1212.92,246.42 1213.49,239.29 1214.18,232.98 C1214.87,226.68 1215.43,220.20 1216.07,214.06 C1216.69,208.23 1216.99,201.53 1217.97,197.03 C1218.63,193.96 1219.55,189.50 1220.43,189.46 C1221.20,189.42 1222.22,192.80 1222.89,195.14 C1223.86,198.58 1224.19,203.57 1224.78,208.38 C1225.47,214.12 1226.02,221.16 1226.67,227.30 C1227.28,233.13 1227.91,238.83 1228.56,244.33 C1229.18,249.53 1229.67,254.91 1230.45,259.47 C1231.11,263.28 1231.64,267.15 1232.72,269.88 C1233.50,271.84 1234.40,274.05 1235.56,274.61 C1236.40,275.01 1237.49,274.57 1238.40,274.23 C1239.39,273.86 1240.31,272.38 1241.24,272.34 C1242.08,272.30 1243.01,272.85 1243.70,273.66 C1244.79,274.94 1245.27,277.76 1245.97,280.28 C1246.88,283.54 1247.64,287.85 1248.43,291.64 C1249.22,295.42 1249.80,299.40 1250.70,302.99 C1251.53,306.31 1252.46,312.36 1253.54,312.45 C1254.40,312.52 1255.48,308.83 1256.38,306.77 C1257.39,304.46 1258.00,301.21 1259.21,299.21 C1260.18,297.62 1261.42,295.61 1262.62,295.42 C1263.65,295.26 1264.57,296.89 1265.84,297.31 C1267.37,297.82 1269.76,298.61 1271.28,297.90 C1273.04,297.07 1274.16,294.01 1275.38,291.75 C1276.72,289.27 1277.55,285.74 1278.86,283.55 C1279.87,281.86 1281.06,279.40 1282.14,279.45 C1283.32,279.49 1284.63,282.48 1285.63,284.57 C1286.94,287.32 1287.32,292.51 1288.71,294.82 C1289.59,296.30 1290.56,297.47 1291.78,297.90 C1292.97,298.32 1294.66,297.05 1295.88,297.49 C1297.22,297.97 1298.43,299.38 1299.37,300.98 C1300.68,303.20 1301.16,306.83 1302.03,310.20 C1303.08,314.23 1303.73,319.70 1305.11,323.53 C1306.24,326.67 1307.59,330.73 1309.21,331.73 C1310.15,332.31 1311.32,332.25 1312.29,331.73 C1313.79,330.93 1315.06,327.73 1316.39,325.58 C1317.79,323.30 1319.02,320.21 1320.49,318.40 C1321.59,317.05 1322.83,315.26 1323.97,315.33 C1325.22,315.40 1326.62,317.71 1327.66,319.43 C1328.98,321.60 1329.66,325.07 1330.74,327.63 C1331.72,329.96 1332.57,332.67 1333.82,334.19 C1334.72,335.30 1335.87,336.54 1336.89,336.45 C1338.06,336.34 1339.16,333.90 1340.38,332.76 C1341.56,331.65 1342.87,329.75 1344.07,329.68 C1345.12,329.63 1346.17,330.77 1347.14,331.73 C1348.40,332.98 1349.40,335.42 1350.63,336.86 C1351.68,338.08 1352.99,340.11 1353.91,339.93 C1354.95,339.74 1355.57,336.80 1356.37,334.81 C1357.42,332.21 1358.32,328.31 1359.45,325.58 C1360.40,323.29 1361.25,320.73 1362.52,319.43 C1363.42,318.50 1364.61,317.68 1365.60,317.79 C1366.67,317.91 1367.68,319.24 1368.67,320.46 C1370.10,322.19 1371.41,325.24 1372.77,327.63 C1374.14,330.02 1375.51,332.42 1376.88,334.81 C1378.24,337.20 1379.64,339.49 1380.98,341.98 C1382.38,344.61 1383.53,347.79 1385.08,350.19 C1386.44,352.30 1387.87,355.20 1389.59,355.72 C1391.01,356.16 1392.88,355.14 1394.30,354.29 C1395.85,353.36 1397.14,351.46 1398.40,350.19 C1399.50,349.09 1400.59,348.55 1401.48,347.11 C1402.81,344.96 1403.55,341.05 1404.56,337.88 C1405.61,334.56 1406.13,330.15 1407.63,327.63 C1408.74,325.78 1410.41,324.61 1411.73,323.53 C1412.79,322.67 1413.88,322.45 1414.81,321.48 C1415.99,320.24 1416.94,318.31 1417.88,316.35 C1419.03,313.98 1419.82,310.52 1420.96,308.15 C1421.90,306.20 1422.91,303.16 1424.04,303.03 C1424.99,302.91 1426.23,304.63 1427.11,306.10 C1428.49,308.41 1429.03,312.87 1430.19,316.35 C1431.41,320.04 1432.82,324.21 1434.29,327.63 C1435.57,330.62 1436.94,333.34 1438.39,335.83 C1439.69,338.08 1441.05,340.68 1442.49,341.98 C1443.48,342.88 1444.48,343.67 1445.56,343.63 C1446.85,343.57 1448.39,342.12 1449.67,340.96 C1451.15,339.62 1452.62,337.85 1453.77,335.83 C1455.09,333.51 1455.90,330.67 1456.84,327.63 C1457.98,323.97 1458.82,319.12 1459.92,315.33 C1460.88,312.01 1461.57,307.96 1462.99,306.10 C1463.87,304.96 1465.04,304.05 1466.07,304.05 C1467.09,304.05 1468.58,305.70 1469.14,306.10 C1469.37,306.26 1469.43,306.49 1469.59,306.45 C1470.09,306.31 1470.99,304.04 1471.49,301.71 C1472.69,296.05 1472.34,282.09 1472.62,271.43 C1472.93,259.51 1473.00,246.19 1473.19,233.57" fill="none" stroke="#0000f4" stroke-width="2.65" stroke-linejoin="round" stroke-linecap="round" clip-path="url(#clipb)"/>
<path d="M882.40,516.97 C883.43,516.57 884.41,516.19 885.49,515.77 C886.68,515.30 887.99,514.77 889.24,514.27 C890.48,513.77 891.72,513.20 892.98,512.77 C894.22,512.35 895.49,512.14 896.73,511.72 C897.99,511.30 899.39,510.73 900.47,510.22 C901.33,509.83 901.95,509.30 902.72,509.03 C903.45,508.76 904.22,508.53 904.97,508.58 C905.72,508.62 906.42,509.00 907.21,509.33 C908.15,509.72 909.19,510.42 910.21,510.82 C911.19,511.21 912.20,511.47 913.21,511.72 C914.20,511.97 915.20,512.27 916.20,512.32 C917.20,512.37 918.22,512.30 919.20,512.02 C920.23,511.73 921.23,511.16 922.19,510.52 C923.24,509.84 924.20,508.85 925.19,507.98 C926.20,507.10 927.23,506.30 928.19,505.28 C929.23,504.17 930.25,502.80 931.18,501.54 C932.09,500.30 932.79,498.83 933.73,497.79 C934.56,496.88 935.43,495.90 936.43,495.54 C937.34,495.21 938.43,495.42 939.42,495.54 C940.43,495.67 941.52,496.45 942.42,496.29 C943.26,496.15 943.97,495.45 944.67,494.79 C945.49,494.02 946.24,493.03 946.91,491.80 C947.79,490.19 948.45,487.93 949.16,485.81 C949.95,483.46 950.62,480.66 951.41,478.31 C952.12,476.19 952.66,473.57 953.66,472.32 C954.30,471.51 955.06,470.97 955.90,470.82 C956.80,470.67 957.90,471.32 958.90,471.57 C959.90,471.82 960.90,472.32 961.90,472.32 C962.89,472.32 963.91,471.78 964.89,471.57 C965.81,471.38 966.80,470.89 967.59,471.12 C968.40,471.37 969.01,472.27 969.69,473.07 C970.52,474.08 971.26,475.57 972.08,476.82 C972.91,478.07 973.69,479.57 974.63,480.56 C975.42,481.39 976.26,482.14 977.18,482.51 C978.02,482.85 979.02,483.06 979.87,482.81 C980.84,482.52 981.76,481.53 982.57,480.56 C983.55,479.39 984.27,477.74 985.12,476.07 C986.12,474.07 987.11,471.57 988.11,469.33 C989.11,467.08 990.11,464.83 991.11,462.58 C992.11,460.34 992.96,457.41 994.10,455.84 C994.88,454.78 995.82,453.58 996.65,453.60 C997.47,453.61 998.30,454.90 999.05,455.84 C999.98,457.03 1000.66,458.91 1001.60,460.34 C1002.51,461.75 1003.45,463.51 1004.59,464.38 C1005.50,465.08 1006.57,465.44 1007.59,465.58 C1008.57,465.72 1009.60,465.52 1010.58,465.28 C1011.60,465.03 1012.52,464.44 1013.58,464.08 C1014.75,463.69 1016.10,463.52 1017.33,463.03 C1018.60,462.53 1019.91,461.76 1021.07,461.09 C1022.14,460.46 1023.05,459.72 1024.07,459.14 C1025.05,458.58 1026.04,457.94 1027.06,457.64 C1028.04,457.36 1029.09,457.62 1030.06,457.34 C1031.09,457.04 1032.23,456.67 1033.06,455.84 C1034.07,454.83 1034.50,452.95 1035.30,451.35 C1036.23,449.49 1037.20,447.07 1038.30,445.36 C1039.23,443.90 1040.17,442.41 1041.30,441.61 C1042.21,440.96 1043.28,440.63 1044.29,440.56 C1045.28,440.49 1046.29,441.11 1047.29,441.16 C1048.28,441.21 1049.46,441.39 1050.28,440.86 C1051.28,440.23 1051.87,438.66 1052.53,437.12 C1053.45,434.95 1053.97,431.79 1054.78,428.88 C1055.70,425.59 1056.76,421.82 1057.78,418.39 C1058.76,415.08 1059.68,411.57 1060.77,408.65 C1061.70,406.17 1062.55,403.35 1063.77,401.91 C1064.57,400.96 1065.58,400.10 1066.46,400.11 C1067.33,400.12 1068.20,401.08 1069.01,401.91 C1070.08,403.01 1070.90,405.13 1072.01,406.40 C1073.01,407.56 1074.31,409.51 1075.30,409.33 C1076.53,409.11 1077.61,405.76 1078.51,403.27 C1079.79,399.78 1080.41,394.44 1081.35,390.03 C1082.30,385.61 1083.16,380.81 1084.19,376.78 C1085.07,373.35 1086.08,370.48 1087.03,367.32 C1087.98,364.17 1088.87,360.82 1089.87,357.86 C1090.77,355.18 1091.65,352.48 1092.71,350.29 C1093.58,348.49 1094.31,346.57 1095.54,345.56 C1096.60,344.71 1098.24,344.99 1099.33,344.24 C1100.47,343.45 1101.42,342.30 1102.17,340.83 C1103.15,338.89 1103.43,335.79 1104.06,333.26 C1104.69,330.74 1105.30,328.13 1105.95,325.70 C1106.56,323.41 1106.93,320.91 1107.84,319.07 C1108.60,317.55 1109.58,316.39 1110.68,315.29 C1111.78,314.18 1113.46,313.73 1114.47,312.45 C1115.62,310.99 1116.26,309.04 1116.93,306.77 C1117.84,303.68 1118.26,299.04 1118.82,295.42 C1119.32,292.13 1119.72,289.26 1120.14,285.96 C1120.61,282.35 1120.93,278.39 1121.47,274.61 C1122.00,270.82 1122.57,266.75 1123.36,263.25 C1124.05,260.19 1124.88,257.37 1125.82,254.74 C1126.67,252.37 1127.88,250.43 1128.66,248.12 C1129.47,245.71 1129.97,243.34 1130.55,240.55 C1131.25,237.16 1131.81,232.98 1132.44,229.20 C1133.07,225.41 1133.72,221.78 1134.33,217.84 C1134.99,213.60 1135.57,208.84 1136.23,204.60 C1136.83,200.66 1137.53,196.48 1138.12,193.25 C1138.56,190.81 1138.92,189.26 1139.39,186.86 C1139.99,183.76 1140.70,179.62 1141.39,176.18 C1142.04,172.96 1142.70,169.83 1143.39,166.84 C1144.04,164.06 1144.62,161.48 1145.39,158.83 C1146.18,156.14 1147.20,153.60 1148.06,150.81 C1148.99,147.83 1149.95,144.60 1150.73,141.47 C1151.51,138.37 1152.07,135.24 1152.74,132.12 C1153.40,129.01 1154.05,125.77 1154.74,122.78 C1155.38,120.00 1155.86,116.73 1156.74,114.77 C1157.32,113.48 1157.89,112.23 1158.74,111.83 C1159.49,111.48 1160.57,112.27 1161.42,112.10 C1162.27,111.92 1163.18,111.58 1163.82,110.76 C1164.84,109.47 1165.12,106.51 1165.69,104.09 C1166.35,101.25 1166.86,97.96 1167.42,94.74 C1168.02,91.30 1168.58,87.50 1169.16,84.06 C1169.70,80.84 1170.13,77.70 1170.76,74.71 C1171.35,71.93 1171.80,68.41 1172.76,66.70 C1173.33,65.70 1174.10,64.70 1174.77,64.70 C1175.43,64.70 1176.16,65.80 1176.77,66.70 C1177.64,68.00 1178.11,70.93 1179.04,72.04 C1179.64,72.76 1180.42,73.48 1181.04,73.38 C1181.77,73.25 1182.33,71.58 1183.04,70.71 C1183.79,69.80 1184.59,68.42 1185.45,68.04 C1186.09,67.75 1186.86,67.70 1187.45,68.04 C1188.27,68.50 1188.84,70.10 1189.45,71.38 C1190.20,72.92 1190.77,75.00 1191.46,76.72 C1192.10,78.33 1192.57,80.57 1193.46,81.39 C1194.03,81.92 1194.87,82.28 1195.46,82.06 C1196.27,81.76 1196.87,80.07 1197.46,78.72 C1198.26,76.91 1198.78,74.20 1199.47,72.04 C1200.12,69.98 1200.54,67.25 1201.47,66.03 C1202.04,65.29 1202.85,64.59 1203.47,64.70 C1204.20,64.82 1204.90,66.19 1205.47,67.37 C1206.35,69.15 1206.88,72.10 1207.48,74.71 C1208.14,77.63 1208.61,80.95 1209.21,84.06 C1209.81,87.18 1210.46,90.41 1211.08,93.40 C1211.66,96.18 1212.09,99.13 1212.82,101.42 C1213.39,103.21 1214.03,104.62 1214.82,106.09 C1215.59,107.51 1216.70,108.73 1217.49,110.09 C1218.25,111.41 1218.84,112.70 1219.49,114.10 C1220.18,115.59 1220.83,117.21 1221.50,118.77 C1222.16,120.33 1222.63,122.17 1223.50,123.44 C1224.24,124.54 1225.25,125.32 1226.17,126.11 C1227.03,126.86 1227.97,127.37 1228.84,128.12 C1229.76,128.91 1230.73,129.80 1231.51,130.79 C1232.30,131.80 1232.80,132.92 1233.51,134.13 C1234.34,135.55 1235.21,137.47 1236.18,138.80 C1237.01,139.94 1237.87,141.12 1238.85,141.74 C1239.68,142.26 1240.66,142.66 1241.52,142.54 C1242.44,142.40 1243.34,141.49 1244.19,140.80 C1245.12,140.05 1246.02,139.16 1246.86,138.13 C1247.81,136.97 1248.64,135.46 1249.53,134.13 C1250.42,132.79 1251.24,131.12 1252.20,130.12 C1252.96,129.34 1253.85,128.31 1254.61,128.38 C1255.41,128.46 1256.22,129.78 1256.88,130.79 C1257.69,132.03 1258.20,133.93 1258.88,135.46 C1259.54,136.95 1260.15,138.57 1260.88,139.87 C1261.50,140.97 1262.07,142.04 1262.88,142.80 C1263.65,143.52 1264.65,143.96 1265.55,144.41 C1266.43,144.84 1267.36,144.99 1268.22,145.47 C1269.15,145.99 1270.03,146.73 1270.89,147.48 C1271.81,148.27 1272.62,149.46 1273.56,150.15 C1274.41,150.75 1275.37,151.56 1276.23,151.48 C1277.15,151.40 1278.06,150.29 1278.91,149.48 C1279.86,148.56 1280.57,147.14 1281.58,146.14 C1282.58,145.14 1283.78,144.30 1284.91,143.47 C1286.01,142.66 1287.12,141.88 1288.25,141.20 C1289.34,140.55 1290.51,139.73 1291.59,139.47 C1292.50,139.24 1293.43,139.12 1294.26,139.47 C1295.24,139.87 1296.15,141.14 1296.93,142.14 C1297.72,143.14 1298.32,144.54 1298.93,145.47 C1299.40,146.19 1299.71,146.65 1300.25,147.30 C1300.96,148.17 1302.07,150.22 1302.93,150.14 C1303.92,150.05 1304.87,147.46 1305.77,145.73 C1306.90,143.52 1307.82,140.30 1308.92,137.84 C1309.93,135.60 1310.91,132.86 1312.08,131.54 C1312.82,130.70 1313.68,129.88 1314.44,129.96 C1315.26,130.04 1316.04,131.27 1316.81,132.32 C1317.91,133.86 1318.95,136.39 1319.96,138.63 C1321.06,141.09 1322.06,143.89 1323.11,146.52 C1324.16,149.14 1325.16,151.94 1326.27,154.40 C1327.27,156.64 1328.31,158.79 1329.42,160.71 C1330.42,162.43 1331.45,164.07 1332.57,165.44 C1333.57,166.65 1334.57,168.01 1335.73,168.59 C1336.70,169.08 1337.77,168.94 1338.88,169.06 C1340.12,169.21 1341.77,168.80 1342.82,169.38 C1343.87,169.96 1344.50,171.17 1345.19,172.53 C1346.18,174.50 1346.80,177.66 1347.55,180.42 C1348.38,183.42 1349.13,186.72 1349.92,189.88 C1350.71,193.03 1351.37,196.64 1352.28,199.34 C1353.00,201.46 1353.50,203.79 1354.65,204.86 C1355.50,205.65 1356.68,205.63 1357.80,205.96 C1359.03,206.32 1360.70,206.18 1361.74,206.91 C1362.81,207.64 1363.39,209.00 1364.11,210.38 C1365.01,212.12 1365.69,214.58 1366.47,216.68 C1367.26,218.78 1367.93,220.91 1368.84,222.99 C1369.77,225.12 1370.76,227.41 1371.99,229.30 C1373.15,231.06 1374.86,232.39 1375.94,234.03 C1376.93,235.55 1377.49,236.96 1378.30,238.76 C1379.32,241.03 1380.40,244.01 1381.45,246.64 C1382.50,249.27 1383.56,251.90 1384.61,254.53 C1385.66,257.15 1386.58,260.17 1387.76,262.41 C1388.73,264.24 1389.76,265.59 1390.91,267.14 C1392.12,268.75 1393.68,270.18 1394.86,271.87 C1396.05,273.59 1396.93,275.64 1398.01,277.39 C1399.03,279.04 1399.94,280.78 1401.16,282.12 C1402.32,283.38 1403.89,284.19 1405.11,285.27 C1406.25,286.29 1407.29,287.15 1408.26,288.43 C1409.42,289.95 1410.91,292.55 1411.41,293.95 C1411.69,294.71 1411.51,295.01 1411.73,295.85 C1412.21,297.64 1413.75,301.42 1414.81,304.05 C1415.81,306.54 1416.66,309.42 1417.88,311.23 C1418.80,312.58 1419.74,313.73 1420.96,314.30 C1422.14,314.87 1423.70,314.48 1425.06,314.71 C1426.44,314.95 1427.78,315.19 1429.16,315.74 C1430.72,316.36 1432.34,318.47 1433.88,318.40 C1435.42,318.34 1436.91,316.28 1438.39,315.33 C1439.77,314.44 1441.00,313.54 1442.49,312.87 C1444.06,312.16 1445.89,311.67 1447.62,311.23 C1449.31,310.79 1451.13,310.56 1452.74,310.20 C1454.19,309.88 1455.71,310.02 1456.84,309.18 C1458.19,308.18 1459.01,306.37 1459.92,304.05 C1461.48,300.05 1462.25,292.78 1463.54,286.57 C1465.01,279.50 1467.04,272.01 1468.27,263.86 C1469.67,254.52 1470.39,244.24 1471.11,233.57 C1471.90,221.67 1472.25,209.71 1472.62,195.71 C1473.08,178.29 1473.13,156.60 1473.38,137.04" fill="none" stroke="#f80000" stroke-width="2.45" stroke-linejoin="round" stroke-linecap="round" clip-path="url(#clipb)"/>
<path d="M123.20,1161.55 C124.31,1161.34 125.35,1160.88 126.52,1160.92 C127.86,1160.95 129.35,1161.73 130.78,1161.98 C132.19,1162.23 133.62,1162.23 135.04,1162.41 C136.46,1162.58 137.88,1163.05 139.30,1163.05 C140.72,1163.05 142.20,1162.95 143.56,1162.41 C145.05,1161.81 146.47,1160.64 147.82,1159.42 C149.33,1158.07 150.71,1156.31 152.08,1154.53 C153.56,1152.58 154.87,1150.14 156.34,1148.14 C157.72,1146.25 159.03,1144.08 160.60,1142.81 C161.91,1141.75 163.62,1141.83 164.86,1140.68 C166.41,1139.24 167.69,1136.89 168.69,1134.29 C170.02,1130.85 170.52,1126.22 171.25,1121.51 C172.14,1115.79 172.69,1108.90 173.38,1102.34 C174.11,1095.43 174.73,1088.14 175.51,1081.04 C176.29,1073.94 177.08,1066.20 178.06,1059.74 C178.89,1054.32 179.80,1049.60 180.83,1044.83 C181.80,1040.40 183.07,1036.33 184.03,1032.06 C184.98,1027.81 185.80,1024.19 186.58,1019.28 C187.63,1012.66 188.55,1003.83 189.35,995.85 C190.19,987.52 190.45,976.49 191.48,970.29 C192.08,966.66 192.77,963.61 193.61,961.77 C194.07,960.76 194.65,959.55 195.10,959.64 C195.95,959.79 196.63,964.59 197.23,968.16 C198.22,974.00 198.68,983.45 199.36,991.59 C200.11,1000.43 200.80,1009.87 201.49,1019.28 C202.22,1029.03 202.84,1039.99 203.62,1049.09 C204.28,1056.80 204.66,1064.73 205.75,1070.39 C206.50,1074.26 207.60,1079.98 208.52,1079.98 C209.44,1079.98 210.45,1073.84 211.29,1070.39 C212.25,1066.46 212.70,1060.38 213.85,1057.61 C214.47,1056.11 215.35,1054.32 215.98,1054.42 C216.86,1054.56 217.42,1059.04 218.11,1061.87 C219.00,1065.55 219.78,1070.40 220.66,1074.65 C221.55,1078.92 222.27,1083.79 223.43,1087.43 C224.35,1090.30 225.48,1094.81 226.63,1094.89 C227.63,1094.96 228.95,1092.00 229.82,1089.56 C231.36,1085.25 231.81,1077.26 232.59,1070.39 C233.49,1062.50 234.01,1053.35 234.72,1044.83 C235.43,1036.32 235.96,1026.92 236.85,1019.28 C237.58,1013.01 237.74,1005.54 239.41,1002.24 C240.26,1000.55 241.34,999.68 242.60,999.04 C243.83,998.42 245.44,998.65 246.86,998.40 C248.28,998.15 249.74,997.31 251.12,997.55 C252.59,997.81 254.20,998.83 255.38,1000.11 C256.79,1001.63 257.59,1004.11 258.58,1006.50 C259.75,1009.33 260.75,1012.71 261.77,1016.08 C262.89,1019.78 263.88,1023.99 264.96,1027.80 C266.01,1031.44 267.09,1034.90 268.16,1038.45 C269.22,1042.00 270.29,1045.54 271.35,1049.09 C272.42,1052.64 273.39,1056.54 274.55,1059.74 C275.54,1062.48 276.60,1064.96 277.74,1067.20 C278.75,1069.16 279.87,1070.75 280.94,1072.52 C282.00,1074.30 282.98,1076.10 284.13,1077.85 C285.32,1079.65 286.51,1082.67 287.97,1083.17 C289.07,1083.55 290.45,1082.88 291.59,1082.11 C293.12,1081.08 294.47,1078.67 295.85,1076.78 C297.31,1074.78 298.90,1072.75 300.11,1070.39 C301.42,1067.83 302.29,1064.89 303.30,1061.87 C304.43,1058.54 305.17,1053.65 306.50,1051.22 C307.32,1049.73 308.32,1048.11 309.27,1048.03 C310.10,1047.96 310.91,1049.83 311.82,1050.16 C312.63,1050.45 313.94,1050.16 314.38,1050.16 C314.53,1050.16 314.58,1050.25 314.69,1050.16 C315.37,1049.62 316.60,1042.73 317.45,1038.45 C318.48,1033.31 319.29,1026.26 320.22,1021.41 C320.93,1017.74 321.28,1013.78 322.35,1011.82 C322.95,1010.73 323.79,1009.61 324.48,1009.69 C325.37,1009.80 326.17,1012.37 327.04,1013.95 C328.08,1015.85 329.20,1018.11 330.23,1020.34 C331.34,1022.71 332.47,1024.93 333.43,1027.80 C334.66,1031.44 335.56,1036.32 336.62,1040.58 C337.69,1044.83 338.59,1049.71 339.82,1053.35 C340.78,1056.22 341.66,1060.41 343.01,1060.81 C343.94,1061.09 345.22,1059.62 346.21,1058.68 C347.38,1057.58 348.19,1055.30 349.40,1054.42 C350.37,1053.72 351.57,1053.22 352.60,1053.35 C353.70,1053.50 354.66,1054.69 355.79,1055.48 C357.12,1056.43 358.81,1058.86 360.05,1058.68 C361.30,1058.50 362.25,1056.03 363.25,1054.42 C364.40,1052.55 365.18,1049.33 366.44,1048.03 C367.28,1047.17 368.30,1046.44 369.21,1046.54 C370.23,1046.65 371.33,1047.92 372.19,1049.09 C373.35,1050.66 374.04,1053.35 374.96,1055.48 C375.89,1057.61 376.71,1060.38 377.73,1061.87 C378.40,1062.86 379.21,1064.14 379.86,1064.00 C380.85,1063.80 381.71,1060.16 382.42,1057.61 C383.39,1054.13 383.86,1049.26 384.55,1044.83 C385.29,1040.06 385.93,1035.06 386.68,1029.93 C387.48,1024.43 388.13,1017.55 389.23,1012.89 C390.03,1009.52 390.74,1006.62 392.00,1004.37 C393.00,1002.58 394.43,1001.63 395.62,1000.11 C396.92,998.45 398.16,996.65 399.46,994.78 C400.86,992.76 402.46,990.56 403.72,988.39 C404.93,986.30 406.05,984.34 406.91,982.00 C407.87,979.41 408.23,976.31 409.04,973.48 C409.86,970.63 410.54,966.87 411.81,964.96 C412.65,963.70 413.86,962.31 414.79,962.41 C415.79,962.51 416.69,964.54 417.56,966.03 C418.72,968.01 419.74,970.82 420.76,973.48 C421.89,976.46 422.91,979.78 423.95,983.07 C425.04,986.52 426.14,990.36 427.15,993.72 C428.05,996.71 428.56,1000.16 429.70,1002.24 C430.49,1003.67 431.45,1005.36 432.47,1005.43 C433.56,1005.50 434.75,1003.26 436.09,1002.24 C437.56,1001.12 439.53,999.03 440.99,999.04 C442.17,999.05 443.24,1000.10 444.19,1001.17 C445.47,1002.63 446.37,1005.25 447.38,1007.56 C448.52,1010.17 449.54,1013.15 450.58,1016.08 C451.67,1019.17 452.68,1022.57 453.77,1025.67 C454.81,1028.60 455.83,1031.58 456.96,1034.19 C457.97,1036.50 459.09,1038.45 460.16,1040.58 C461.22,1042.71 462.29,1044.83 463.35,1046.96 C464.42,1049.09 465.54,1051.04 466.55,1053.35 C467.69,1055.96 468.68,1059.03 469.74,1061.87 C470.81,1064.71 471.84,1067.66 472.94,1070.39 C473.98,1072.97 474.62,1076.25 476.13,1077.85 C477.29,1079.08 478.99,1079.44 480.39,1079.98 C481.68,1080.47 483.07,1080.30 484.23,1081.04 C485.60,1081.92 486.70,1083.87 487.85,1085.30 C488.97,1086.71 489.85,1088.18 491.04,1089.56 C492.32,1091.03 493.81,1092.66 495.30,1093.82 C496.66,1094.88 498.09,1096.12 499.56,1096.38 C500.94,1096.62 502.55,1096.05 503.82,1095.53 C505.02,1095.03 506.02,1094.08 507.02,1093.40 C507.92,1092.78 508.59,1092.35 509.58,1091.61 C511.05,1090.51 513.09,1088.62 514.90,1087.35 C516.64,1086.15 518.50,1084.42 520.23,1084.16 C521.68,1083.94 523.16,1084.48 524.48,1085.22 C526.03,1086.10 527.24,1087.98 528.74,1089.48 C530.42,1091.16 532.31,1092.98 534.06,1094.81 C535.86,1096.67 537.45,1099.22 539.39,1100.55 C541.04,1101.69 542.91,1102.11 544.71,1102.68 C546.46,1103.24 548.29,1103.34 550.03,1103.96 C551.84,1104.60 553.45,1106.08 555.35,1106.51 C557.34,1106.97 559.91,1105.91 561.74,1106.51 C563.41,1107.07 564.55,1108.45 566.00,1109.71 C567.73,1111.21 569.41,1113.77 571.32,1115.03 C572.99,1116.13 574.85,1116.99 576.64,1117.16 C578.40,1117.32 580.22,1116.62 581.97,1116.10 C583.77,1115.56 585.40,1114.43 587.29,1113.97 C589.29,1113.48 591.67,1113.78 593.68,1113.33 C595.56,1112.90 597.26,1112.23 599.00,1111.41 C600.82,1110.55 602.61,1108.39 604.32,1108.22 C605.78,1108.07 607.11,1109.07 608.58,1109.71 C610.28,1110.44 612.09,1111.76 613.90,1112.48 C615.64,1113.16 617.58,1113.33 619.23,1113.97 C620.75,1114.56 622.14,1115.13 623.48,1116.10 C625.00,1117.19 626.18,1119.06 627.74,1120.35 C629.36,1121.69 631.20,1123.40 633.06,1123.97 C634.76,1124.50 636.54,1124.10 638.39,1123.97 C640.42,1123.84 642.64,1123.37 644.77,1123.12 C646.90,1122.87 648.95,1122.75 651.16,1122.48 C653.55,1122.19 656.36,1121.23 658.61,1121.42 C660.56,1121.58 662.06,1122.70 663.93,1123.12 C665.95,1123.57 668.31,1123.52 670.32,1123.97 C672.20,1124.39 673.89,1124.98 675.64,1125.68 C677.44,1126.39 679.27,1127.57 680.97,1128.23 C682.44,1128.80 683.71,1129.38 685.22,1129.51 C686.89,1129.65 688.78,1128.80 690.55,1128.87 C692.33,1128.94 694.01,1129.59 695.87,1129.93 C697.90,1130.31 700.24,1130.55 702.26,1131.00 C704.12,1131.41 705.84,1131.80 707.58,1132.49 C709.39,1133.20 711.13,1134.33 712.90,1135.26" fill="none" stroke="#0000f4" stroke-width="2.65" stroke-linejoin="round" stroke-linecap="round" clip-path="url(#clipc)"/>
<path d="M123.20,1160.92 C123.95,1159.14 124.70,1157.69 125.45,1155.59 C126.51,1152.67 127.75,1148.94 128.65,1144.94 C129.76,1139.96 130.44,1133.76 131.21,1127.90 C132.01,1121.71 132.63,1115.12 133.34,1108.73 C134.05,1102.34 134.46,1094.99 135.47,1089.56 C136.22,1085.46 137.26,1078.94 138.23,1078.91 C139.11,1078.89 140.21,1084.07 141.00,1087.43 C142.10,1092.10 142.51,1099.22 143.56,1104.47 C144.47,1109.06 145.73,1112.82 146.75,1117.25 C147.86,1122.02 148.88,1127.19 149.95,1132.16 C151.01,1137.13 151.90,1142.83 153.14,1147.07 C154.10,1150.35 155.06,1153.79 156.34,1155.59 C157.11,1156.68 158.13,1157.90 158.89,1157.72 C160.00,1157.46 160.87,1154.04 161.66,1151.33 C162.91,1147.07 163.54,1140.43 164.43,1134.29 C165.47,1127.11 166.37,1118.04 167.41,1110.86 C168.30,1104.72 168.76,1097.52 170.18,1093.82 C170.96,1091.82 172.02,1089.61 172.95,1089.56 C173.79,1089.52 174.53,1091.86 175.51,1092.76 C176.46,1093.63 177.81,1095.18 178.70,1094.89 C179.99,1094.47 180.71,1090.72 181.47,1087.43 C182.84,1081.52 183.23,1071.01 184.03,1061.87 C184.95,1051.34 185.74,1039.79 186.58,1027.80 C187.52,1014.39 188.36,1000.90 189.35,985.20 C190.58,965.77 192.15,935.76 193.38,920.00 C194.07,911.01 194.77,906.11 195.35,898.86 C195.96,891.20 196.42,882.73 196.92,875.21 C197.39,868.33 197.74,860.99 198.26,855.49 C198.64,851.51 199.02,847.92 199.53,845.24 C199.86,843.47 200.19,840.93 200.63,840.90 C201.04,840.87 201.63,842.98 202.05,844.45 C202.69,846.68 203.21,849.69 203.63,853.12 C204.23,858.05 204.42,865.09 204.81,871.26 C205.21,877.70 205.63,883.77 205.99,890.98 C206.43,899.72 206.70,908.81 207.18,920.00 C207.83,935.34 208.67,959.42 209.59,974.55 C210.24,985.33 210.99,993.19 211.72,1002.24 C212.41,1010.93 213.10,1019.67 213.85,1027.80 C214.53,1035.22 215.06,1043.42 215.98,1049.09 C216.59,1052.94 217.27,1058.61 218.11,1058.68 C218.74,1058.73 219.47,1055.34 220.24,1053.35 C221.21,1050.85 222.18,1047.12 223.43,1044.83 C224.39,1043.09 225.67,1042.32 226.63,1040.58 C227.88,1038.29 228.78,1034.73 229.82,1032.06 C230.76,1029.65 231.77,1025.17 232.59,1025.24 C233.61,1025.32 234.38,1032.10 235.15,1036.32 C236.14,1041.81 236.67,1049.30 237.70,1055.48 C238.68,1061.35 239.77,1067.55 241.11,1072.52 C242.19,1076.53 243.28,1080.94 244.73,1083.17 C245.57,1084.47 246.71,1085.92 247.50,1085.73 C248.60,1085.47 249.23,1081.57 250.06,1078.91 C251.17,1075.34 251.94,1069.53 253.25,1066.13 C254.19,1063.70 255.29,1060.29 256.45,1060.17 C257.44,1060.07 258.65,1062.50 259.64,1064.00 C260.82,1065.81 261.46,1068.75 262.83,1070.39 C264.02,1071.82 265.76,1072.65 267.09,1073.59 C268.22,1074.39 269.21,1075.07 270.29,1075.72 C271.34,1076.35 272.49,1077.62 273.48,1077.42 C274.65,1077.20 275.75,1075.27 276.68,1073.59 C278.01,1071.20 278.83,1067.29 279.87,1064.00 C280.97,1060.56 282.00,1056.90 283.07,1053.35 C284.13,1049.80 285.20,1046.25 286.26,1042.71 C287.33,1039.16 288.39,1035.61 289.46,1032.06 C290.52,1028.51 291.59,1024.96 292.65,1021.41 C293.72,1017.86 294.78,1014.31 295.85,1010.76 C296.91,1007.21 297.98,1003.66 299.04,1000.11 C300.11,996.56 301.15,992.91 302.24,989.46 C303.28,986.17 304.37,983.07 305.43,979.87 C306.50,976.68 307.63,973.49 308.63,970.29 C309.62,967.10 310.23,962.96 311.40,960.70 C312.15,959.25 313.13,957.43 313.95,957.51 C314.95,957.60 315.88,961.05 316.82,962.83 C317.75,964.60 318.76,968.25 319.58,968.16 C320.70,968.03 321.58,961.38 322.35,957.51 C323.26,952.98 323.74,947.37 324.48,942.60 C325.17,938.17 325.45,932.75 326.61,929.82 C327.31,928.07 328.46,925.87 329.17,925.99 C330.13,926.15 330.60,931.34 331.30,934.08 C332.02,936.88 332.45,940.38 333.43,942.60 C334.14,944.20 335.10,946.42 335.99,946.43 C336.88,946.45 337.86,944.08 338.75,942.60 C339.86,940.78 341.10,938.67 341.95,936.21 C342.99,933.17 343.47,929.42 344.08,925.56 C344.79,921.02 345.29,916.54 345.78,910.65 C346.50,902.11 346.73,888.83 347.46,879.21 C348.09,871.02 348.94,863.06 349.74,856.51 C350.34,851.50 350.68,846.29 351.63,843.26 C352.16,841.56 352.93,839.44 353.52,839.48 C354.21,839.53 354.84,842.78 355.41,845.16 C356.32,848.96 356.89,855.25 357.68,860.29 C358.47,865.34 359.21,870.99 360.14,875.43 C360.89,878.97 361.52,882.73 362.60,884.89 C363.26,886.21 364.11,887.78 364.87,887.73 C365.81,887.67 366.92,885.00 367.71,883.00 C368.86,880.10 369.44,875.83 370.17,871.65 C371.06,866.56 371.72,860.58 372.44,854.62 C373.24,848.03 373.92,840.74 374.71,833.80 C375.50,826.86 376.33,819.76 377.17,812.99 C377.97,806.53 378.87,800.67 379.63,794.07 C380.46,786.85 381.14,778.93 381.90,771.36 C382.66,763.79 383.37,755.45 384.17,748.66 C384.83,743.09 385.25,737.31 386.25,733.52 C386.89,731.12 387.83,727.82 388.52,727.84 C389.21,727.86 389.88,731.14 390.42,733.52 C391.28,737.32 391.66,743.10 392.31,748.66 C393.10,755.46 393.96,763.96 394.77,771.36 C395.54,778.45 396.26,785.41 397.04,792.18 C397.78,798.64 398.50,804.96 399.31,811.10 C400.08,816.93 400.83,823.16 401.77,828.13 C402.51,832.04 402.78,836.57 404.23,838.53 C405.08,839.69 406.38,839.94 407.45,840.43 C408.40,840.86 409.44,840.70 410.28,841.37 C411.42,842.29 412.18,844.53 413.12,846.10 C414.07,847.68 415.05,849.17 415.96,850.83 C416.94,852.62 417.98,854.33 418.80,856.51 C419.81,859.22 420.52,862.53 421.26,865.97 C422.13,870.00 422.80,874.65 423.53,879.21 C424.31,884.09 424.98,889.48 425.80,894.35 C426.57,898.92 427.31,903.47 428.26,907.60 C429.11,911.29 429.59,916.41 431.10,918.00 C431.89,918.84 433.01,919.14 433.94,918.95 C435.04,918.73 436.10,916.10 437.15,916.11 C438.18,916.13 439.36,917.63 440.18,918.95 C441.31,920.77 441.80,923.50 442.45,926.52 C443.39,930.85 443.88,937.34 444.61,942.60 C445.31,947.66 445.89,952.74 446.74,957.51 C447.54,961.95 448.52,966.35 449.51,970.29 C450.38,973.73 451.19,976.80 452.28,979.87 C453.33,982.83 454.73,985.65 455.90,988.39 C457.00,990.96 458.08,993.18 459.09,995.85 C460.22,998.82 461.20,1002.34 462.29,1005.43 C463.33,1008.36 464.18,1011.52 465.48,1013.95 C466.59,1016.02 467.75,1018.23 469.32,1019.28 C470.66,1020.17 472.43,1020.16 474.00,1020.34 C475.56,1020.51 477.34,1019.81 478.69,1020.34 C480.04,1020.87 481.09,1022.24 482.10,1023.54 C483.25,1025.01 483.97,1027.12 485.08,1028.86 C486.23,1030.67 487.38,1033.15 488.91,1034.19 C490.17,1035.03 491.78,1035.08 493.17,1035.25 C494.48,1035.41 495.79,1034.92 497.01,1035.25 C498.28,1035.60 499.57,1036.33 500.63,1037.38 C501.91,1038.65 502.76,1040.93 503.82,1042.71 C504.89,1044.48 505.91,1047.17 507.02,1048.03 C507.65,1048.52 508.19,1048.73 508.94,1048.61 C510.24,1048.40 512.15,1046.26 513.84,1045.20 C515.55,1044.13 517.58,1041.96 519.16,1042.22 C520.78,1042.48 522.12,1045.00 523.42,1046.90 C525.02,1049.23 526.08,1053.09 527.68,1055.42 C528.98,1057.32 530.27,1059.03 531.94,1060.10 C533.50,1061.11 535.38,1061.45 537.26,1061.81 C539.27,1062.19 541.69,1061.59 543.64,1062.23 C545.59,1062.87 547.24,1064.34 548.97,1065.64 C550.80,1067.01 552.58,1068.57 554.29,1070.32 C556.14,1072.22 557.99,1074.54 559.61,1076.71 C561.17,1078.80 562.55,1080.85 563.87,1083.10 C565.25,1085.45 566.28,1088.59 567.70,1090.55 C568.82,1092.08 569.93,1093.59 571.32,1094.17 C572.59,1094.69 574.08,1094.23 575.58,1094.17 C577.26,1094.10 579.30,1093.28 580.90,1093.74 C582.50,1094.20 583.82,1095.63 585.16,1096.93 C586.68,1098.41 587.82,1100.66 589.42,1102.26 C591.02,1103.85 592.95,1105.15 594.74,1106.51 C596.50,1107.85 598.19,1109.74 600.06,1110.35 C601.75,1110.89 603.73,1110.07 605.39,1110.35 C606.91,1110.61 608.21,1111.05 609.64,1111.84 C611.40,1112.81 613.15,1114.83 614.97,1116.10 C616.70,1117.30 618.44,1118.70 620.29,1119.29 C622.00,1119.84 623.98,1119.26 625.61,1119.71 C627.16,1120.14 628.37,1121.08 629.87,1121.84 C631.55,1122.70 633.38,1123.90 635.19,1124.61 C636.93,1125.30 638.67,1125.54 640.52,1126.10 C642.55,1126.73 644.86,1127.65 646.90,1128.23 C648.75,1128.76 650.44,1129.30 652.22,1129.51 C653.99,1129.72 655.70,1129.36 657.55,1129.51 C659.59,1129.68 661.80,1130.32 663.93,1130.57 C666.06,1130.82 668.20,1130.75 670.32,1131.00 C672.46,1131.25 674.57,1131.89 676.71,1132.06 C678.83,1132.24 681.09,1132.38 683.10,1132.06 C684.97,1131.77 686.64,1130.89 688.42,1130.36 C690.19,1129.83 691.95,1129.01 693.74,1128.87 C695.50,1128.73 697.29,1129.26 699.06,1129.51 C700.84,1129.76 702.62,1130.01 704.39,1130.36 C706.17,1130.72 708.18,1131.10 709.71,1131.64 C710.93,1132.06 711.84,1132.63 712.90,1133.13" fill="none" stroke="#f80000" stroke-width="2.45" stroke-linejoin="round" stroke-linecap="round" clip-path="url(#clipc)"/>
<path d="M880.00,1163.69 C881.49,1163.69 882.85,1163.75 884.46,1163.69 C886.39,1163.62 888.55,1163.37 890.77,1163.22 C893.25,1163.05 896.03,1162.88 898.66,1162.74 C901.29,1162.61 904.07,1162.63 906.55,1162.43 C908.77,1162.25 910.82,1161.91 912.85,1161.64 C914.76,1161.39 916.69,1161.14 918.38,1160.85 C919.80,1160.61 921.10,1160.48 922.32,1160.06 C923.46,1159.67 924.45,1159.12 925.47,1158.49 C926.56,1157.82 927.63,1157.08 928.63,1156.12 C929.75,1155.03 930.78,1153.64 931.78,1152.18 C932.90,1150.53 933.85,1148.41 934.94,1146.66 C935.96,1145.00 937.04,1143.50 938.09,1141.92 C939.14,1140.35 940.31,1138.80 941.25,1137.19 C942.15,1135.64 942.88,1134.23 943.61,1132.46 C944.48,1130.36 945.19,1127.73 945.98,1125.36 C946.77,1123.00 947.53,1120.55 948.34,1118.26 C949.11,1116.09 949.78,1113.65 950.71,1111.96 C951.42,1110.66 952.17,1109.08 953.08,1108.80 C953.79,1108.58 954.76,1108.97 955.44,1109.59 C956.49,1110.56 957.07,1113.08 957.81,1115.11 C958.67,1117.48 959.37,1120.44 960.17,1123.00 C960.94,1125.43 961.63,1128.12 962.54,1130.09 C963.25,1131.65 964.05,1133.55 964.91,1134.04 C965.41,1134.32 965.99,1134.34 966.48,1134.04 C967.38,1133.48 968.06,1130.88 968.85,1129.31 C969.64,1127.73 970.19,1125.64 971.21,1124.57 C972.02,1123.74 973.15,1122.90 974.05,1123.00 C975.00,1123.10 975.93,1124.40 976.74,1125.36 C977.64,1126.45 978.28,1127.93 979.10,1129.31 C980.00,1130.81 980.85,1132.96 981.94,1134.04 C982.76,1134.85 983.79,1135.72 984.62,1135.62 C985.48,1135.51 986.30,1134.36 986.99,1133.25 C988.01,1131.59 988.63,1128.80 989.35,1126.15 C990.24,1122.90 990.93,1118.79 991.72,1115.11 C992.51,1111.43 993.27,1107.60 994.09,1104.07 C994.85,1100.79 995.38,1097.28 996.45,1094.61 C997.32,1092.45 998.49,1090.73 999.61,1089.09 C1000.60,1087.62 1001.71,1086.46 1002.76,1085.14 C1003.81,1083.83 1004.86,1082.51 1005.91,1081.20 C1006.97,1079.88 1008.02,1078.57 1009.07,1077.26 C1010.12,1075.94 1011.02,1074.43 1012.22,1073.31 C1013.39,1072.23 1014.88,1070.80 1016.17,1070.63 C1017.24,1070.49 1018.34,1071.12 1019.32,1071.74 C1020.46,1072.45 1021.48,1073.68 1022.48,1074.89 C1023.60,1076.26 1024.61,1077.96 1025.63,1079.62 C1026.71,1081.37 1027.70,1083.39 1028.79,1085.14 C1029.81,1086.80 1030.71,1088.53 1031.94,1089.87 C1033.10,1091.14 1034.67,1091.94 1035.88,1093.03 C1037.02,1094.05 1038.02,1095.04 1039.04,1096.18 C1040.12,1097.40 1041.08,1098.98 1042.19,1100.13 C1043.20,1101.16 1044.22,1102.45 1045.35,1102.81 C1046.34,1103.12 1047.50,1102.88 1048.50,1102.49 C1049.62,1102.06 1050.64,1101.01 1051.66,1100.13 C1052.74,1099.18 1053.82,1098.19 1054.81,1096.97 C1055.93,1095.60 1056.96,1093.96 1057.97,1092.24 C1059.08,1090.32 1060.21,1088.13 1061.12,1085.93 C1062.06,1083.67 1062.68,1081.12 1063.49,1078.83 C1064.25,1076.66 1064.83,1073.93 1065.85,1072.52 C1066.54,1071.58 1067.33,1070.78 1068.22,1070.63 C1069.15,1070.47 1070.42,1072.26 1071.37,1071.74 C1074.01,1070.28 1075.61,1053.43 1077.08,1046.79 C1078.06,1042.37 1078.59,1039.10 1079.45,1035.74 C1080.18,1032.87 1080.75,1029.63 1081.81,1027.85 C1082.49,1026.72 1083.24,1025.90 1084.18,1025.48 C1085.09,1025.08 1086.31,1025.14 1087.34,1025.33 C1088.41,1025.52 1089.60,1025.93 1090.49,1026.67 C1091.48,1027.49 1092.18,1028.86 1092.86,1030.22 C1093.66,1031.81 1094.21,1033.77 1094.83,1035.74 C1095.53,1037.95 1096.13,1040.55 1096.80,1042.84 C1097.45,1045.01 1097.98,1047.28 1098.78,1049.15 C1099.46,1050.77 1100.21,1053.26 1101.14,1053.49 C1101.85,1053.67 1102.80,1052.69 1103.51,1051.91 C1104.44,1050.90 1105.04,1048.88 1105.88,1047.57 C1106.63,1046.41 1107.31,1045.15 1108.24,1044.42 C1109.06,1043.78 1110.09,1043.23 1111.01,1043.23 C1111.93,1043.23 1112.90,1043.95 1113.77,1044.42 C1114.61,1044.87 1115.35,1045.84 1116.13,1046.00 C1116.79,1046.13 1117.47,1045.85 1118.11,1045.60 C1118.80,1045.34 1119.52,1045.13 1120.12,1044.42 C1121.13,1043.22 1121.71,1040.25 1122.49,1038.11 C1123.29,1035.91 1123.83,1033.15 1124.85,1031.40 C1125.64,1030.06 1126.64,1028.36 1127.61,1028.24 C1128.49,1028.14 1129.59,1029.25 1130.37,1030.22 C1131.41,1031.51 1131.97,1033.83 1132.74,1035.74 C1133.55,1037.76 1134.25,1040.17 1135.11,1042.05 C1135.85,1043.66 1136.54,1046.16 1137.48,1046.39 C1138.18,1046.56 1139.20,1045.71 1139.84,1044.81 C1140.90,1043.33 1141.26,1040.12 1141.81,1037.32 C1142.50,1033.84 1142.93,1029.43 1143.39,1025.48 C1143.85,1021.54 1144.18,1017.59 1144.58,1013.65 C1144.97,1009.70 1145.33,1005.45 1145.76,1001.81 C1146.13,998.69 1146.53,995.88 1146.94,993.14 C1147.32,990.65 1147.65,988.32 1148.13,986.04 C1148.58,983.86 1149.09,981.74 1149.70,979.72 C1150.28,977.81 1150.98,976.10 1151.68,974.20 C1152.42,972.16 1153.25,969.99 1154.04,967.89 C1154.83,965.79 1155.64,964.21 1156.41,961.58 C1157.63,957.42 1158.66,950.07 1159.92,945.17 C1160.97,941.10 1162.31,937.83 1163.23,934.13 C1164.15,930.47 1164.74,926.94 1165.44,923.09 C1166.21,918.88 1166.91,914.26 1167.65,909.85 C1168.38,905.43 1168.99,900.91 1169.86,896.60 C1170.69,892.45 1171.50,887.84 1172.73,884.46 C1173.67,881.86 1174.60,879.18 1176.04,877.84 C1177.10,876.85 1178.62,876.12 1179.79,876.29 C1180.98,876.46 1182.18,877.61 1183.10,878.94 C1184.46,880.91 1184.79,885.40 1185.97,887.77 C1186.87,889.58 1188.06,892.20 1189.06,892.19 C1190.05,892.17 1191.06,889.65 1191.93,887.77 C1193.22,884.99 1194.14,880.41 1195.24,876.73 C1196.35,873.05 1197.35,869.02 1198.55,865.70 C1199.58,862.86 1200.51,859.82 1201.87,857.97 C1202.84,856.63 1204.11,855.01 1205.18,855.10 C1206.33,855.19 1207.44,857.59 1208.49,859.07 C1209.66,860.72 1210.70,862.75 1211.80,864.59 C1212.90,866.43 1213.86,868.31 1215.11,870.11 C1216.42,872.00 1218.21,873.74 1219.53,875.63 C1220.78,877.43 1221.82,879.04 1222.84,881.15 C1224.07,883.70 1225.13,886.71 1226.15,889.98 C1227.37,893.92 1228.43,898.80 1229.46,903.22 C1230.49,907.63 1231.41,912.05 1232.33,916.47 C1233.25,920.88 1233.47,926.90 1234.98,929.71 C1235.87,931.37 1237.08,932.38 1238.29,933.02 C1239.32,933.57 1240.59,933.10 1241.60,933.69 C1242.84,934.40 1243.96,935.86 1244.91,937.44 C1246.13,939.47 1246.86,942.58 1247.78,945.17 C1248.70,947.74 1249.48,950.24 1250.43,952.89 C1251.45,955.74 1252.60,958.89 1253.74,961.72 C1254.82,964.40 1255.73,967.50 1257.05,969.45 C1258.04,970.90 1259.26,972.76 1260.36,972.76 C1261.47,972.76 1262.98,970.31 1263.68,969.45 C1264.06,968.97 1264.13,968.83 1264.47,968.23 C1265.28,966.80 1267.04,963.35 1268.25,960.66 C1269.58,957.71 1270.78,954.35 1272.04,951.20 C1273.30,948.04 1274.50,944.69 1275.82,941.73 C1277.03,939.04 1278.07,935.83 1279.61,934.16 C1280.72,932.96 1282.13,931.89 1283.40,931.89 C1284.66,931.89 1286.07,932.96 1287.18,934.16 C1288.73,935.83 1289.87,939.09 1290.97,941.73 C1292.09,944.45 1292.80,947.61 1293.81,950.25 C1294.71,952.62 1295.42,955.07 1296.65,956.88 C1297.70,958.44 1299.05,959.88 1300.43,960.66 C1301.61,961.33 1302.95,961.36 1304.22,961.61 C1305.48,961.86 1306.92,961.59 1308.01,962.18 C1309.15,962.80 1309.84,964.39 1310.84,965.40 C1311.85,966.40 1312.97,968.22 1314.06,968.23 C1315.18,968.25 1316.25,965.95 1317.47,965.40 C1318.54,964.90 1319.91,964.45 1320.88,964.83 C1321.97,965.25 1322.75,966.84 1323.53,968.23 C1324.52,970.02 1325.16,972.51 1325.99,974.86 C1326.92,977.51 1327.82,980.74 1328.83,983.38 C1329.73,985.75 1330.44,988.20 1331.67,990.00 C1332.72,991.56 1334.09,993.48 1335.45,993.79 C1336.64,994.06 1338.05,993.17 1339.24,992.47 C1340.59,991.67 1341.76,990.19 1343.03,989.06 C1344.29,987.92 1345.50,986.62 1346.81,985.65 C1348.03,984.75 1349.44,984.12 1350.60,983.38 C1351.62,982.73 1352.60,982.44 1353.44,981.49 C1354.58,980.19 1355.41,977.98 1356.28,975.81 C1357.35,973.09 1358.15,969.41 1359.12,966.34 C1360.04,963.42 1360.70,959.93 1361.96,957.82 C1362.87,956.30 1364.08,954.43 1365.18,954.42 C1366.29,954.40 1367.44,956.60 1368.58,957.82 C1369.83,959.17 1370.97,961.23 1372.37,962.18 C1373.54,962.97 1374.92,963.11 1376.15,963.50 C1377.31,963.87 1378.60,963.77 1379.56,964.45 C1380.67,965.23 1381.44,966.69 1382.21,968.23 C1383.23,970.27 1383.82,973.21 1384.67,975.81 C1385.58,978.56 1386.54,981.58 1387.51,984.33 C1388.44,986.93 1389.07,990.17 1390.35,991.90 C1391.26,993.12 1392.44,994.23 1393.57,994.36 C1394.65,994.49 1395.83,993.44 1396.98,992.84 C1398.23,992.20 1399.47,991.15 1400.76,990.57 C1401.99,990.03 1403.35,990.09 1404.55,989.44 C1405.89,988.71 1407.10,987.36 1408.34,986.22 C1409.62,985.03 1410.91,983.84 1412.12,982.43 C1413.44,980.90 1414.64,978.87 1415.91,977.32 C1417.04,975.94 1418.09,973.81 1419.32,973.54 C1420.33,973.30 1421.46,974.25 1422.53,974.86 C1423.79,975.57 1424.99,977.43 1426.32,977.70 C1427.53,977.94 1428.94,976.71 1430.11,976.75 C1431.13,976.79 1432.09,977.08 1432.95,977.70 C1434.03,978.48 1434.84,980.22 1435.79,981.49 C1436.73,982.75 1437.62,984.19 1438.63,985.27 C1439.52,986.24 1440.48,987.62 1441.46,987.73 C1442.38,987.84 1443.39,986.85 1444.30,986.22 C1445.29,985.54 1446.09,984.52 1447.14,983.76 C1448.28,982.93 1449.62,981.92 1450.93,981.49 C1452.15,981.08 1453.50,981.53 1454.72,981.11 C1456.04,980.64 1457.25,979.52 1458.50,978.65 C1459.78,977.75 1460.99,976.61 1462.29,975.81 C1463.52,975.05 1465.04,974.84 1466.07,973.91 C1467.14,972.96 1467.89,972.01 1468.54,970.13 C1469.92,966.07 1469.81,956.79 1470.24,949.30 C1470.74,940.58 1470.96,930.04 1471.19,920.91 C1471.39,912.41 1471.44,904.50 1471.56,896.30" fill="none" stroke="#0000f4" stroke-width="2.65" stroke-linejoin="round" stroke-linecap="round" clip-path="url(#clipd)"/>
<path d="M880.00,1163.69 C881.23,1163.53 882.43,1163.42 883.68,1163.22 C884.97,1163.01 886.33,1162.86 887.62,1162.43 C888.96,1161.98 890.24,1161.12 891.56,1160.54 C892.87,1159.96 894.10,1159.23 895.50,1158.96 C896.98,1158.67 898.60,1158.91 900.24,1158.96 C902.01,1159.01 904.10,1158.91 905.76,1159.27 C907.21,1159.60 908.39,1160.33 909.70,1160.85 C911.01,1161.38 912.30,1162.12 913.64,1162.43 C914.94,1162.73 916.36,1162.90 917.59,1162.74 C918.71,1162.60 919.76,1162.26 920.74,1161.64 C921.88,1160.92 922.87,1159.63 923.90,1158.49 C924.98,1157.27 925.90,1155.55 927.05,1154.54 C928.03,1153.69 929.05,1153.05 930.21,1152.65 C931.41,1152.24 932.84,1152.39 934.15,1152.18 C935.47,1151.97 936.95,1152.08 938.09,1151.39 C939.37,1150.61 940.35,1148.94 941.25,1147.44 C942.22,1145.82 942.88,1143.95 943.61,1141.92 C944.47,1139.55 945.22,1136.80 945.98,1134.04 C946.80,1131.04 947.56,1127.73 948.34,1124.57 C949.13,1121.42 949.92,1118.26 950.71,1115.11 C951.50,1111.96 952.31,1108.93 953.08,1105.65 C953.90,1102.11 954.65,1098.29 955.44,1094.61 C956.23,1090.93 956.68,1086.05 957.81,1083.56 C958.48,1082.10 959.43,1080.34 960.17,1080.41 C961.03,1080.49 961.84,1083.25 962.54,1085.14 C963.49,1087.71 964.14,1091.32 964.91,1094.61 C965.73,1098.14 966.45,1102.11 967.27,1105.65 C968.03,1108.93 968.76,1112.30 969.64,1115.11 C970.37,1117.45 971.06,1119.79 972.00,1121.42 C972.70,1122.63 973.48,1123.69 974.37,1124.26 C975.09,1124.72 976.01,1125.11 976.74,1124.89 C977.61,1124.62 978.27,1123.20 979.10,1122.21 C980.09,1121.03 981.17,1119.48 982.26,1118.26 C983.28,1117.12 984.45,1116.34 985.41,1115.11 C986.47,1113.75 987.31,1111.93 988.25,1110.38 C989.15,1108.88 990.02,1106.03 990.93,1105.96 C991.70,1105.90 992.61,1107.53 993.30,1108.80 C994.32,1110.70 994.80,1114.31 995.66,1116.69 C996.40,1118.71 997.05,1120.58 998.03,1122.21 C998.92,1123.70 1000.00,1125.31 1001.18,1126.15 C1002.15,1126.83 1003.40,1127.42 1004.34,1127.26 C1005.23,1127.10 1006.01,1126.27 1006.70,1125.36 C1007.68,1124.08 1008.21,1121.67 1009.07,1119.84 C1009.94,1117.99 1010.78,1115.52 1011.91,1114.32 C1012.71,1113.47 1013.64,1112.82 1014.59,1112.74 C1015.58,1112.67 1016.71,1113.49 1017.74,1114.01 C1018.82,1114.54 1019.75,1115.41 1020.90,1115.90 C1022.11,1116.42 1023.60,1116.67 1024.84,1117.00 C1025.95,1117.30 1026.94,1117.58 1028.00,1117.79 C1029.04,1118.00 1030.17,1118.59 1031.15,1118.26 C1032.31,1117.88 1033.33,1116.39 1034.31,1115.11 C1035.47,1113.59 1036.43,1111.51 1037.46,1109.59 C1038.54,1107.57 1039.59,1105.46 1040.62,1103.28 C1041.69,1101.00 1042.74,1098.62 1043.77,1096.18 C1044.85,1093.63 1045.87,1090.93 1046.92,1088.30 C1047.98,1085.67 1049.03,1083.04 1050.08,1080.41 C1051.13,1077.78 1052.18,1075.15 1053.23,1072.52 C1054.28,1069.89 1055.28,1067.10 1056.39,1064.64 C1057.40,1062.39 1058.50,1060.54 1059.54,1058.33 C1060.67,1055.93 1061.80,1053.30 1062.88,1050.73 C1063.97,1048.13 1065.02,1045.40 1066.04,1042.84 C1066.99,1040.41 1067.80,1037.66 1068.80,1035.74 C1069.54,1034.30 1070.36,1032.90 1071.16,1032.19 C1071.68,1031.73 1072.20,1031.34 1072.74,1031.40 C1073.38,1031.47 1074.06,1032.45 1074.71,1032.98 C1075.37,1033.50 1075.99,1034.23 1076.69,1034.56 C1077.31,1034.85 1078.10,1035.18 1078.66,1034.95 C1079.32,1034.68 1079.82,1033.62 1080.24,1032.58 C1080.87,1031.03 1081.04,1028.50 1081.42,1026.27 C1081.84,1023.79 1082.21,1021.01 1082.60,1018.38 C1083.00,1015.75 1083.37,1012.97 1083.79,1010.49 C1084.16,1008.27 1084.45,1006.07 1084.97,1004.18 C1085.41,1002.58 1085.87,1000.50 1086.55,999.84 C1086.90,999.50 1087.36,999.32 1087.73,999.45 C1088.30,999.64 1088.78,1000.91 1089.31,1001.81 C1089.97,1002.95 1090.49,1004.83 1091.28,1005.76 C1091.87,1006.45 1092.58,1007.13 1093.25,1007.18 C1093.90,1007.23 1094.61,1006.65 1095.23,1006.15 C1095.95,1005.57 1096.56,1004.62 1097.20,1003.79 C1097.87,1002.91 1098.58,1002.00 1099.17,1001.03 C1099.77,1000.03 1100.31,999.05 1100.75,997.87 C1101.27,996.48 1101.61,994.78 1101.93,993.14 C1102.28,991.37 1102.47,989.52 1102.72,987.61 C1102.99,985.58 1103.26,983.47 1103.51,981.30 C1103.78,979.01 1104.04,976.63 1104.30,974.20 C1104.57,971.64 1104.78,969.79 1105.09,966.31 C1105.69,959.54 1106.47,944.67 1107.38,936.34 C1108.04,930.33 1108.48,924.99 1109.59,920.88 C1110.37,918.02 1111.42,913.90 1112.46,913.82 C1113.36,913.75 1114.37,916.78 1115.33,918.68 C1116.58,921.15 1117.55,925.66 1119.08,927.51 C1120.07,928.70 1121.37,929.89 1122.40,929.71 C1123.60,929.51 1124.79,927.29 1125.71,925.30 C1127.13,922.17 1127.72,916.93 1128.58,912.05 C1129.61,906.12 1130.32,898.61 1131.23,892.19 C1132.08,886.12 1133.00,880.74 1133.87,874.53 C1134.85,867.58 1135.88,859.62 1136.74,852.45 C1137.56,845.66 1138.22,839.21 1138.95,832.58 C1139.69,825.96 1140.53,819.34 1141.16,812.72 C1141.78,806.10 1142.18,799.79 1142.70,792.85 C1143.28,785.21 1143.91,775.45 1144.49,768.79 C1144.90,764.05 1145.25,760.60 1145.70,756.64 C1146.13,752.82 1146.41,748.49 1147.10,745.42 C1147.61,743.20 1148.11,741.21 1148.97,739.81 C1149.62,738.77 1150.53,737.48 1151.31,737.48 C1152.09,737.48 1152.95,738.78 1153.64,739.81 C1154.58,741.21 1155.23,743.47 1155.98,745.42 C1156.79,747.51 1157.55,750.03 1158.32,751.96 C1158.95,753.53 1159.37,755.41 1160.19,756.17 C1160.73,756.66 1161.48,756.97 1162.06,756.82 C1162.74,756.65 1163.34,755.69 1163.93,754.77 C1164.79,753.41 1165.51,751.11 1166.26,749.16 C1167.07,747.07 1167.77,744.87 1168.60,742.62 C1169.48,740.20 1170.47,737.63 1171.40,735.14 C1172.34,732.65 1173.35,730.17 1174.21,727.66 C1175.06,725.18 1175.74,722.30 1176.54,720.19 C1177.15,718.56 1177.72,716.92 1178.41,715.98 C1178.85,715.39 1179.34,714.71 1179.81,714.77 C1180.43,714.84 1181.13,716.30 1181.68,717.38 C1182.43,718.86 1182.95,721.04 1183.55,722.99 C1184.20,725.08 1184.79,727.40 1185.42,729.53 C1186.03,731.60 1186.46,733.98 1187.29,735.61 C1187.94,736.88 1188.78,738.56 1189.63,738.69 C1190.36,738.80 1191.33,737.88 1191.96,737.01 C1192.88,735.77 1193.27,733.53 1193.83,731.40 C1194.55,728.70 1195.06,725.09 1195.70,722.06 C1196.31,719.18 1196.86,716.09 1197.57,713.64 C1198.14,711.70 1198.72,709.37 1199.44,708.50 C1199.79,708.08 1200.18,707.78 1200.56,707.85 C1201.11,707.95 1201.75,708.96 1202.24,709.91 C1203.03,711.42 1203.51,714.19 1204.11,716.45 C1204.76,718.85 1205.37,721.36 1205.98,723.93 C1206.62,726.64 1207.21,729.62 1207.85,732.34 C1208.46,734.91 1208.96,737.53 1209.72,739.81 C1210.39,741.84 1211.12,744.02 1212.06,745.42 C1212.75,746.45 1213.65,746.88 1214.39,747.76 C1215.21,748.73 1216.05,749.80 1216.73,751.03 C1217.48,752.41 1218.02,754.00 1218.60,755.70 C1219.28,757.68 1219.84,760.06 1220.47,762.24 C1221.09,764.42 1221.58,766.64 1222.34,768.79 C1223.10,770.95 1224.16,772.74 1225.04,775.19 C1226.18,778.34 1226.96,783.46 1228.36,786.23 C1229.32,788.14 1230.51,790.60 1231.67,790.64 C1232.86,790.68 1234.14,787.69 1235.42,786.23 C1236.71,784.74 1238.16,781.76 1239.39,781.81 C1240.58,781.86 1241.69,784.48 1242.70,786.23 C1243.95,788.38 1244.77,791.80 1246.02,793.95 C1247.03,795.70 1248.12,798.16 1249.33,798.37 C1250.35,798.54 1251.61,797.13 1252.64,796.16 C1253.85,795.01 1254.69,792.65 1255.95,791.74 C1256.95,791.02 1258.28,790.28 1259.26,790.64 C1260.59,791.13 1261.60,794.07 1262.57,796.16 C1263.70,798.60 1264.30,802.21 1265.41,804.49 C1266.26,806.23 1267.26,808.78 1268.25,808.84 C1269.16,808.89 1270.27,806.96 1271.09,805.43 C1272.32,803.15 1272.98,799.12 1273.93,795.97 C1274.88,792.81 1275.71,789.27 1276.77,786.50 C1277.64,784.22 1278.52,781.38 1279.61,780.44 C1280.20,779.94 1280.90,779.64 1281.50,779.88 C1282.52,780.27 1283.47,782.80 1284.34,784.61 C1285.40,786.80 1286.13,789.99 1287.18,792.18 C1288.05,793.99 1288.81,795.79 1290.02,796.91 C1291.08,797.90 1292.55,798.81 1293.81,798.81 C1295.07,798.81 1296.45,797.92 1297.59,796.91 C1299.05,795.63 1300.03,792.88 1301.38,791.24 C1302.57,789.78 1303.82,788.42 1305.17,787.45 C1306.36,786.59 1307.67,786.10 1308.95,785.56 C1310.20,785.03 1311.48,784.23 1312.74,784.23 C1314.00,784.23 1315.31,784.91 1316.52,785.56 C1317.84,786.26 1319.25,787.13 1320.31,788.40 C1321.53,789.86 1322.35,791.89 1323.15,794.07 C1324.14,796.78 1324.69,800.11 1325.42,803.54 C1326.28,807.58 1327.03,812.55 1327.88,816.79 C1328.67,820.73 1329.24,825.24 1330.34,828.15 C1331.10,830.14 1331.82,832.39 1332.99,832.88 C1333.94,833.28 1335.35,832.59 1336.40,831.94 C1337.66,831.16 1338.75,829.17 1339.81,828.15 C1340.61,827.38 1341.37,826.11 1342.08,826.26 C1343.12,826.47 1344.02,829.88 1344.92,831.94 C1345.93,834.25 1346.86,836.83 1347.76,839.51 C1348.76,842.47 1349.63,845.91 1350.60,848.97 C1351.52,851.89 1352.47,854.74 1353.44,857.49 C1354.36,860.10 1355.27,862.75 1356.28,865.06 C1357.17,867.12 1357.81,869.60 1359.12,870.74 C1360.15,871.66 1361.62,871.92 1362.90,872.07 C1364.15,872.22 1365.56,871.41 1366.69,871.69 C1367.76,871.96 1368.69,872.63 1369.53,873.58 C1370.67,874.88 1371.49,877.14 1372.37,879.26 C1373.41,881.78 1374.26,884.94 1375.21,887.78 C1376.15,890.62 1377.00,893.78 1378.05,896.30 C1378.93,898.42 1379.57,900.92 1380.89,901.98 C1381.92,902.81 1383.57,902.30 1384.67,902.92 C1385.79,903.56 1386.67,904.52 1387.51,905.76 C1388.64,907.43 1389.43,910.10 1390.35,912.39 C1391.33,914.82 1392.16,917.45 1393.19,919.96 C1394.24,922.50 1395.38,925.35 1396.60,927.53 C1397.61,929.35 1398.67,930.71 1399.82,932.27 C1401.00,933.87 1402.55,935.14 1403.60,937.00 C1404.82,939.15 1405.47,942.14 1406.44,944.57 C1407.36,946.86 1408.11,949.66 1409.28,951.20 C1410.12,952.29 1411.09,952.84 1412.12,953.47 C1413.17,954.11 1414.49,954.21 1415.53,954.98 C1416.73,955.88 1417.59,957.58 1418.75,958.77 C1419.92,959.98 1421.18,961.45 1422.53,962.18 C1423.72,962.81 1425.05,962.90 1426.32,963.12 C1427.57,963.34 1428.89,963.08 1430.11,963.50 C1431.43,963.97 1432.59,965.32 1433.89,965.96 C1435.12,966.57 1436.40,967.17 1437.68,967.29 C1438.93,967.41 1440.35,967.21 1441.46,966.72 C1442.55,966.25 1443.47,965.54 1444.30,964.45 C1445.48,962.91 1446.28,960.31 1447.14,957.82 C1448.21,954.78 1448.99,950.69 1449.98,947.41 C1450.89,944.42 1451.55,941.23 1452.82,938.89 C1453.87,936.97 1455.38,935.84 1456.61,934.16 C1457.91,932.38 1459.32,930.58 1460.40,928.48 C1461.56,926.20 1462.36,923.72 1463.23,920.91 C1464.29,917.53 1465.30,913.50 1466.07,909.55 C1466.90,905.32 1467.44,900.87 1467.97,896.30 C1468.53,891.43 1468.91,886.72 1469.29,881.15 C1469.76,874.35 1470.15,866.30 1470.43,858.44 C1470.73,849.95 1470.84,840.61 1471.00,831.94 C1471.15,823.58 1471.28,815.82 1471.37,807.33 C1471.48,798.20 1471.50,788.40 1471.56,778.93" fill="none" stroke="#f80000" stroke-width="2.45" stroke-linejoin="round" stroke-linecap="round" clip-path="url(#clipd)"/>
<rect x="482.90" y="50.20" width="217.80" height="76.30" fill="#fff" stroke="#555" stroke-width="1.4"/>
<line x1="493.60" y1="72.00" x2="551.30" y2="72.00" stroke="#0000f4" stroke-width="2.6" stroke-linecap="round"/>
<line x1="493.60" y1="110.00" x2="551.30" y2="110.00" stroke="#f80000" stroke-width="2.6" stroke-linecap="round"/>
<text transform="translate(559.24,80.90) scale(1.0137,1)" font-size="30.09" font-weight="bold">Pd/Si (1R)</text>
<text transform="translate(559.24,119.30) scale(1.0137,1)" font-size="30.09" font-weight="bold">Pd/Si (2R)</text>
<rect x="1247.30" y="45.40" width="219.00" height="76.60" fill="#fff" stroke="#555" stroke-width="1.4"/>
<line x1="1258.40" y1="67.50" x2="1316.10" y2="67.50" stroke="#0000f4" stroke-width="2.6" stroke-linecap="round"/>
<line x1="1258.40" y1="105.50" x2="1316.10" y2="105.50" stroke="#f80000" stroke-width="2.6" stroke-linecap="round"/>
<text transform="translate(1324.04,76.30) scale(1.0405,1)" font-size="29.49" font-weight="bold">Pd/Si (1R)</text>
<text transform="translate(1324.04,114.70) scale(1.0405,1)" font-size="29.49" font-weight="bold">Pd/Si (2R)</text>
<rect x="488.90" y="690.90" width="211.80" height="76.40" fill="#fff" stroke="#555" stroke-width="1.4"/>
<line x1="499.70" y1="713.20" x2="556.90" y2="713.20" stroke="#0000f4" stroke-width="2.6" stroke-linecap="round"/>
<line x1="499.70" y1="751.30" x2="556.90" y2="751.30" stroke="#f80000" stroke-width="2.6" stroke-linecap="round"/>
<text transform="translate(565.64,722.00) scale(1.0276,1)" font-size="29.79" font-weight="bold">Pt/Si (1R)</text>
<text transform="translate(565.64,760.40) scale(1.0276,1)" font-size="29.79" font-weight="bold">Pt/Si (2R)</text>
<rect x="1249.20" y="690.50" width="212.30" height="76.90" fill="#fff" stroke="#555" stroke-width="1.4"/>
<line x1="1259.70" y1="712.30" x2="1317.70" y2="712.30" stroke="#0000f4" stroke-width="2.6" stroke-linecap="round"/>
<line x1="1259.70" y1="750.80" x2="1317.70" y2="750.80" stroke="#f80000" stroke-width="2.6" stroke-linecap="round"/>
<text transform="translate(1325.64,721.50) scale(1.0238,1)" font-size="30.09" font-weight="bold">Pt/Si (1R)</text>
<text transform="translate(1325.64,759.90) scale(1.0238,1)" font-size="30.09" font-weight="bold">Pt/Si (2R)</text>
</svg>
</body></html>
